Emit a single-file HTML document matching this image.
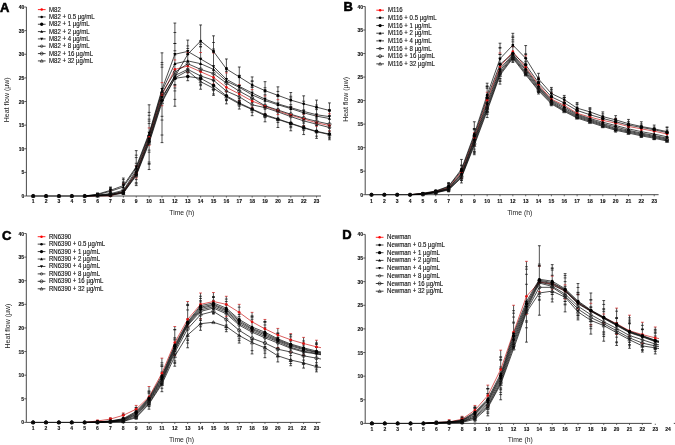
<!DOCTYPE html>
<html><head><meta charset="utf-8"><title>Heat flow</title>
<style>html,body{margin:0;padding:0;background:#fff;width:675px;height:445px;overflow:hidden}
svg text{font-family:'Liberation Sans', sans-serif}</style></head>
<body>
<svg width="675" height="445" viewBox="0 0 675 445" style="position:absolute;left:0;top:0;will-change:transform"><rect width="675" height="445" fill="#fff"/><path d="M26.40 7.00V196.00H321.00" fill="none" stroke="#333" stroke-width="0.9"/><path d="M24.40 196.00H26.40" stroke="#333" stroke-width="0.8"/><text x="24.20" y="198.05" text-anchor="end" font-size="5" font-weight="bold" fill="#111" stroke="#111" stroke-width="0.12">0</text><path d="M24.40 172.38H26.40" stroke="#333" stroke-width="0.8"/><text x="24.20" y="174.43" text-anchor="end" font-size="5" font-weight="bold" fill="#111" stroke="#111" stroke-width="0.12">5</text><path d="M24.40 148.75H26.40" stroke="#333" stroke-width="0.8"/><text x="24.20" y="150.80" text-anchor="end" font-size="5" font-weight="bold" fill="#111" stroke="#111" stroke-width="0.12">10</text><path d="M24.40 125.12H26.40" stroke="#333" stroke-width="0.8"/><text x="24.20" y="127.17" text-anchor="end" font-size="5" font-weight="bold" fill="#111" stroke="#111" stroke-width="0.12">15</text><path d="M24.40 101.50H26.40" stroke="#333" stroke-width="0.8"/><text x="24.20" y="103.55" text-anchor="end" font-size="5" font-weight="bold" fill="#111" stroke="#111" stroke-width="0.12">20</text><path d="M24.40 77.88H26.40" stroke="#333" stroke-width="0.8"/><text x="24.20" y="79.93" text-anchor="end" font-size="5" font-weight="bold" fill="#111" stroke="#111" stroke-width="0.12">25</text><path d="M24.40 54.25H26.40" stroke="#333" stroke-width="0.8"/><text x="24.20" y="56.30" text-anchor="end" font-size="5" font-weight="bold" fill="#111" stroke="#111" stroke-width="0.12">30</text><path d="M24.40 30.62H26.40" stroke="#333" stroke-width="0.8"/><text x="24.20" y="32.67" text-anchor="end" font-size="5" font-weight="bold" fill="#111" stroke="#111" stroke-width="0.12">35</text><path d="M24.40 7.00H26.40" stroke="#333" stroke-width="0.8"/><text x="24.20" y="9.05" text-anchor="end" font-size="5" font-weight="bold" fill="#111" stroke="#111" stroke-width="0.12">40</text><path d="M33.20 196.00V197.60" stroke="#333" stroke-width="0.7"/><text x="33.20" y="203.40" text-anchor="middle" font-size="5" font-weight="bold" fill="#111" stroke="#111" stroke-width="0.12">1</text><path d="M46.08 196.00V197.60" stroke="#333" stroke-width="0.7"/><text x="46.08" y="203.40" text-anchor="middle" font-size="5" font-weight="bold" fill="#111" stroke="#111" stroke-width="0.12">2</text><path d="M58.96 196.00V197.60" stroke="#333" stroke-width="0.7"/><text x="58.96" y="203.40" text-anchor="middle" font-size="5" font-weight="bold" fill="#111" stroke="#111" stroke-width="0.12">3</text><path d="M71.84 196.00V197.60" stroke="#333" stroke-width="0.7"/><text x="71.84" y="203.40" text-anchor="middle" font-size="5" font-weight="bold" fill="#111" stroke="#111" stroke-width="0.12">4</text><path d="M84.72 196.00V197.60" stroke="#333" stroke-width="0.7"/><text x="84.72" y="203.40" text-anchor="middle" font-size="5" font-weight="bold" fill="#111" stroke="#111" stroke-width="0.12">5</text><path d="M97.60 196.00V197.60" stroke="#333" stroke-width="0.7"/><text x="97.60" y="203.40" text-anchor="middle" font-size="5" font-weight="bold" fill="#111" stroke="#111" stroke-width="0.12">6</text><path d="M110.48 196.00V197.60" stroke="#333" stroke-width="0.7"/><text x="110.48" y="203.40" text-anchor="middle" font-size="5" font-weight="bold" fill="#111" stroke="#111" stroke-width="0.12">7</text><path d="M123.36 196.00V197.60" stroke="#333" stroke-width="0.7"/><text x="123.36" y="203.40" text-anchor="middle" font-size="5" font-weight="bold" fill="#111" stroke="#111" stroke-width="0.12">8</text><path d="M136.24 196.00V197.60" stroke="#333" stroke-width="0.7"/><text x="136.24" y="203.40" text-anchor="middle" font-size="5" font-weight="bold" fill="#111" stroke="#111" stroke-width="0.12">9</text><path d="M149.12 196.00V197.60" stroke="#333" stroke-width="0.7"/><text x="149.12" y="203.40" text-anchor="middle" font-size="5" font-weight="bold" fill="#111" stroke="#111" stroke-width="0.12">10</text><path d="M162.00 196.00V197.60" stroke="#333" stroke-width="0.7"/><text x="162.00" y="203.40" text-anchor="middle" font-size="5" font-weight="bold" fill="#111" stroke="#111" stroke-width="0.12">11</text><path d="M174.88 196.00V197.60" stroke="#333" stroke-width="0.7"/><text x="174.88" y="203.40" text-anchor="middle" font-size="5" font-weight="bold" fill="#111" stroke="#111" stroke-width="0.12">12</text><path d="M187.76 196.00V197.60" stroke="#333" stroke-width="0.7"/><text x="187.76" y="203.40" text-anchor="middle" font-size="5" font-weight="bold" fill="#111" stroke="#111" stroke-width="0.12">13</text><path d="M200.64 196.00V197.60" stroke="#333" stroke-width="0.7"/><text x="200.64" y="203.40" text-anchor="middle" font-size="5" font-weight="bold" fill="#111" stroke="#111" stroke-width="0.12">14</text><path d="M213.52 196.00V197.60" stroke="#333" stroke-width="0.7"/><text x="213.52" y="203.40" text-anchor="middle" font-size="5" font-weight="bold" fill="#111" stroke="#111" stroke-width="0.12">15</text><path d="M226.40 196.00V197.60" stroke="#333" stroke-width="0.7"/><text x="226.40" y="203.40" text-anchor="middle" font-size="5" font-weight="bold" fill="#111" stroke="#111" stroke-width="0.12">16</text><path d="M239.28 196.00V197.60" stroke="#333" stroke-width="0.7"/><text x="239.28" y="203.40" text-anchor="middle" font-size="5" font-weight="bold" fill="#111" stroke="#111" stroke-width="0.12">17</text><path d="M252.16 196.00V197.60" stroke="#333" stroke-width="0.7"/><text x="252.16" y="203.40" text-anchor="middle" font-size="5" font-weight="bold" fill="#111" stroke="#111" stroke-width="0.12">18</text><path d="M265.04 196.00V197.60" stroke="#333" stroke-width="0.7"/><text x="265.04" y="203.40" text-anchor="middle" font-size="5" font-weight="bold" fill="#111" stroke="#111" stroke-width="0.12">19</text><path d="M277.92 196.00V197.60" stroke="#333" stroke-width="0.7"/><text x="277.92" y="203.40" text-anchor="middle" font-size="5" font-weight="bold" fill="#111" stroke="#111" stroke-width="0.12">20</text><path d="M290.80 196.00V197.60" stroke="#333" stroke-width="0.7"/><text x="290.80" y="203.40" text-anchor="middle" font-size="5" font-weight="bold" fill="#111" stroke="#111" stroke-width="0.12">21</text><path d="M303.68 196.00V197.60" stroke="#333" stroke-width="0.7"/><text x="303.68" y="203.40" text-anchor="middle" font-size="5" font-weight="bold" fill="#111" stroke="#111" stroke-width="0.12">22</text><path d="M316.56 196.00V197.60" stroke="#333" stroke-width="0.7"/><text x="316.56" y="203.40" text-anchor="middle" font-size="5" font-weight="bold" fill="#111" stroke="#111" stroke-width="0.12">23</text><g><path d="M97.60 193.16V196.00" stroke="#262626" stroke-width="0.8" fill="none"/><path d="M96.20 194.70H99.00M96.20 195.88H99.00" stroke="#d42020" stroke-width="0.75" fill="none"/><path d="M96.20 193.83H99.00M96.20 195.71H99.00" stroke="#111" stroke-width="0.75" fill="none"/><path d="M96.20 193.85H99.00M96.20 195.10H99.00" stroke="#111" stroke-width="0.75" fill="none"/><path d="M96.20 193.16H99.00M96.20 195.67H99.00" stroke="#111" stroke-width="0.75" fill="none"/><path d="M96.20 193.99H99.00M96.20 195.82H99.00" stroke="#111" stroke-width="0.75" fill="none"/><path d="M96.20 193.48H99.00M96.20 195.76H99.00" stroke="#111" stroke-width="0.75" fill="none"/><path d="M96.20 193.57H99.00M96.20 196.00H99.00" stroke="#111" stroke-width="0.75" fill="none"/><path d="M110.48 187.02V196.00" stroke="#262626" stroke-width="0.8" fill="none"/><path d="M109.08 190.55H111.88M109.08 196.00H111.88" stroke="#d42020" stroke-width="0.75" fill="none"/><path d="M109.08 188.44H111.88M109.08 195.89H111.88" stroke="#111" stroke-width="0.75" fill="none"/><path d="M109.08 187.67H111.88M109.08 194.41H111.88" stroke="#111" stroke-width="0.75" fill="none"/><path d="M109.08 187.02H111.88M109.08 194.54H111.88" stroke="#111" stroke-width="0.75" fill="none"/><path d="M109.08 189.24H111.88M109.08 194.83H111.88" stroke="#111" stroke-width="0.75" fill="none"/><path d="M109.08 192.11H111.88M109.08 195.87H111.88" stroke="#111" stroke-width="0.75" fill="none"/><path d="M123.36 178.05V194.58" stroke="#262626" stroke-width="0.8" fill="none"/><path d="M121.96 183.68H124.76M121.96 192.65H124.76" stroke="#d42020" stroke-width="0.75" fill="none"/><path d="M121.96 184.73H124.76M121.96 193.69H124.76" stroke="#111" stroke-width="0.75" fill="none"/><path d="M121.96 179.67H124.76M121.96 193.71H124.76" stroke="#111" stroke-width="0.75" fill="none"/><path d="M121.96 182.10H124.76M121.96 190.24H124.76" stroke="#111" stroke-width="0.75" fill="none"/><path d="M121.96 178.05H124.76M121.96 193.00H124.76" stroke="#111" stroke-width="0.75" fill="none"/><path d="M121.96 183.42H124.76M121.96 193.85H124.76" stroke="#111" stroke-width="0.75" fill="none"/><path d="M121.96 182.21H124.76M121.96 194.58H124.76" stroke="#111" stroke-width="0.75" fill="none"/><path d="M136.24 150.64V185.60" stroke="#262626" stroke-width="0.8" fill="none"/><path d="M134.84 165.93H137.64M134.84 177.90H137.64" stroke="#d42020" stroke-width="0.75" fill="none"/><path d="M134.84 157.57H137.64M134.84 183.89H137.64" stroke="#111" stroke-width="0.75" fill="none"/><path d="M134.84 150.64H137.64M134.84 179.57H137.64" stroke="#111" stroke-width="0.75" fill="none"/><path d="M134.84 155.15H137.64M134.84 182.71H137.64" stroke="#111" stroke-width="0.75" fill="none"/><path d="M134.84 163.28H137.64M134.84 185.60H137.64" stroke="#111" stroke-width="0.75" fill="none"/><path d="M149.12 104.81V169.54" stroke="#262626" stroke-width="0.8" fill="none"/><path d="M147.72 127.95H150.52M147.72 145.39H150.52" stroke="#d42020" stroke-width="0.75" fill="none"/><path d="M147.72 112.41H150.52M147.72 164.28H150.52" stroke="#111" stroke-width="0.75" fill="none"/><path d="M147.72 121.15H150.52M147.72 152.17H150.52" stroke="#111" stroke-width="0.75" fill="none"/><path d="M147.72 104.81H150.52M147.72 162.04H150.52" stroke="#111" stroke-width="0.75" fill="none"/><path d="M147.72 115.33H150.52M147.72 163.49H150.52" stroke="#111" stroke-width="0.75" fill="none"/><path d="M147.72 119.16H150.52M147.72 150.13H150.52" stroke="#111" stroke-width="0.75" fill="none"/><path d="M147.72 123.54H150.52M147.72 169.54H150.52" stroke="#111" stroke-width="0.75" fill="none"/><path d="M162.00 52.83V142.61" stroke="#262626" stroke-width="0.8" fill="none"/><path d="M160.60 82.65H163.40M160.60 105.73H163.40" stroke="#d42020" stroke-width="0.75" fill="none"/><path d="M160.60 67.17H163.40M160.60 120.05H163.40" stroke="#111" stroke-width="0.75" fill="none"/><path d="M160.60 62.59H163.40M160.60 116.32H163.40" stroke="#111" stroke-width="0.75" fill="none"/><path d="M160.60 52.83H163.40M160.60 135.03H163.40" stroke="#111" stroke-width="0.75" fill="none"/><path d="M160.60 64.74H163.40M160.60 142.61H163.40" stroke="#111" stroke-width="0.75" fill="none"/><path d="M174.88 23.06V106.23" stroke="#262626" stroke-width="0.8" fill="none"/><path d="M173.48 59.97H176.28M173.48 86.01H176.28" stroke="#d42020" stroke-width="0.75" fill="none"/><path d="M173.48 32.52H176.28M173.48 87.99H176.28" stroke="#111" stroke-width="0.75" fill="none"/><path d="M173.48 50.75H176.28M173.48 106.23H176.28" stroke="#111" stroke-width="0.75" fill="none"/><path d="M173.48 43.48H176.28M173.48 90.92H176.28" stroke="#111" stroke-width="0.75" fill="none"/><path d="M173.48 23.06H176.28M173.48 84.53H176.28" stroke="#111" stroke-width="0.75" fill="none"/><path d="M173.48 43.51H176.28M173.48 99.38H176.28" stroke="#111" stroke-width="0.75" fill="none"/><path d="M173.48 54.96H176.28M173.48 85.14H176.28" stroke="#111" stroke-width="0.75" fill="none"/><path d="M187.76 40.08V80.71" stroke="#262626" stroke-width="0.8" fill="none"/><path d="M186.36 52.54H189.16M186.36 72.64H189.16" stroke="#d42020" stroke-width="0.75" fill="none"/><path d="M186.36 45.92H189.16M186.36 68.93H189.16" stroke="#111" stroke-width="0.75" fill="none"/><path d="M186.36 53.80H189.16M186.36 80.71H189.16" stroke="#111" stroke-width="0.75" fill="none"/><path d="M186.36 40.08H189.16M186.36 72.85H189.16" stroke="#111" stroke-width="0.75" fill="none"/><path d="M186.36 48.47H189.16M186.36 76.16H189.16" stroke="#111" stroke-width="0.75" fill="none"/><path d="M200.64 24.96V89.22" stroke="#262626" stroke-width="0.8" fill="none"/><path d="M199.24 52.51H202.04M199.24 79.18H202.04" stroke="#d42020" stroke-width="0.75" fill="none"/><path d="M199.24 24.96H202.04M199.24 75.36H202.04" stroke="#111" stroke-width="0.75" fill="none"/><path d="M199.24 42.86H202.04M199.24 84.59H202.04" stroke="#111" stroke-width="0.75" fill="none"/><path d="M199.24 46.59H202.04M199.24 71.47H202.04" stroke="#111" stroke-width="0.75" fill="none"/><path d="M199.24 44.60H202.04M199.24 85.68H202.04" stroke="#111" stroke-width="0.75" fill="none"/><path d="M199.24 46.88H202.04M199.24 79.58H202.04" stroke="#111" stroke-width="0.75" fill="none"/><path d="M199.24 59.04H202.04M199.24 89.22H202.04" stroke="#111" stroke-width="0.75" fill="none"/><path d="M213.52 35.82V95.36" stroke="#262626" stroke-width="0.8" fill="none"/><path d="M212.12 53.00H214.92M212.12 83.98H214.92" stroke="#d42020" stroke-width="0.75" fill="none"/><path d="M212.12 35.82H214.92M212.12 80.53H214.92" stroke="#111" stroke-width="0.75" fill="none"/><path d="M212.12 52.25H214.92M212.12 93.95H214.92" stroke="#111" stroke-width="0.75" fill="none"/><path d="M212.12 49.01H214.92M212.12 90.69H214.92" stroke="#111" stroke-width="0.75" fill="none"/><path d="M212.12 50.34H214.92M212.12 89.58H214.92" stroke="#111" stroke-width="0.75" fill="none"/><path d="M212.12 42.49H214.92M212.12 95.36H214.92" stroke="#111" stroke-width="0.75" fill="none"/><path d="M226.40 58.98V103.86" stroke="#262626" stroke-width="0.8" fill="none"/><path d="M225.00 72.88H227.80M225.00 91.58H227.80" stroke="#d42020" stroke-width="0.75" fill="none"/><path d="M225.00 58.98H227.80M225.00 100.20H227.80" stroke="#111" stroke-width="0.75" fill="none"/><path d="M225.00 67.69H227.80M225.00 99.53H227.80" stroke="#111" stroke-width="0.75" fill="none"/><path d="M225.00 71.35H227.80M225.00 100.63H227.80" stroke="#111" stroke-width="0.75" fill="none"/><path d="M225.00 68.29H227.80M225.00 103.86H227.80" stroke="#111" stroke-width="0.75" fill="none"/><path d="M239.28 67.01V109.06" stroke="#262626" stroke-width="0.8" fill="none"/><path d="M237.88 84.71H240.68M237.88 100.47H240.68" stroke="#d42020" stroke-width="0.75" fill="none"/><path d="M237.88 67.01H240.68M237.88 100.11H240.68" stroke="#111" stroke-width="0.75" fill="none"/><path d="M237.88 90.21H240.68M237.88 106.20H240.68" stroke="#111" stroke-width="0.75" fill="none"/><path d="M237.88 75.34H240.68M237.88 100.74H240.68" stroke="#111" stroke-width="0.75" fill="none"/><path d="M237.88 77.36H240.68M237.88 101.62H240.68" stroke="#111" stroke-width="0.75" fill="none"/><path d="M237.88 75.46H240.68M237.88 98.57H240.68" stroke="#111" stroke-width="0.75" fill="none"/><path d="M237.88 85.39H240.68M237.88 109.06H240.68" stroke="#111" stroke-width="0.75" fill="none"/><path d="M252.16 76.93V115.68" stroke="#262626" stroke-width="0.8" fill="none"/><path d="M250.76 89.67H253.56M250.76 107.28H253.56" stroke="#d42020" stroke-width="0.75" fill="none"/><path d="M250.76 76.93H253.56M250.76 98.79H253.56" stroke="#111" stroke-width="0.75" fill="none"/><path d="M250.76 86.83H253.56M250.76 112.34H253.56" stroke="#111" stroke-width="0.75" fill="none"/><path d="M250.76 81.58H253.56M250.76 102.47H253.56" stroke="#111" stroke-width="0.75" fill="none"/><path d="M250.76 80.76H253.56M250.76 109.46H253.56" stroke="#111" stroke-width="0.75" fill="none"/><path d="M250.76 87.41H253.56M250.76 115.68H253.56" stroke="#111" stroke-width="0.75" fill="none"/><path d="M265.04 81.66V121.82" stroke="#262626" stroke-width="0.8" fill="none"/><path d="M263.64 95.99H266.44M263.64 114.16H266.44" stroke="#d42020" stroke-width="0.75" fill="none"/><path d="M263.64 81.66H266.44M263.64 107.60H266.44" stroke="#111" stroke-width="0.75" fill="none"/><path d="M263.64 87.75H266.44M263.64 117.65H266.44" stroke="#111" stroke-width="0.75" fill="none"/><path d="M263.64 91.13H266.44M263.64 109.16H266.44" stroke="#111" stroke-width="0.75" fill="none"/><path d="M263.64 91.94H266.44M263.64 116.79H266.44" stroke="#111" stroke-width="0.75" fill="none"/><path d="M263.64 94.81H266.44M263.64 115.06H266.44" stroke="#111" stroke-width="0.75" fill="none"/><path d="M263.64 89.86H266.44M263.64 121.82H266.44" stroke="#111" stroke-width="0.75" fill="none"/><path d="M277.92 86.85V127.49" stroke="#262626" stroke-width="0.8" fill="none"/><path d="M276.52 99.70H279.32M276.52 114.46H279.32" stroke="#d42020" stroke-width="0.75" fill="none"/><path d="M276.52 86.85H279.32M276.52 109.97H279.32" stroke="#111" stroke-width="0.75" fill="none"/><path d="M276.52 96.53H279.32M276.52 122.46H279.32" stroke="#111" stroke-width="0.75" fill="none"/><path d="M276.52 96.29H279.32M276.52 120.25H279.32" stroke="#111" stroke-width="0.75" fill="none"/><path d="M276.52 91.44H279.32M276.52 127.49H279.32" stroke="#111" stroke-width="0.75" fill="none"/><path d="M290.80 92.52V130.80" stroke="#262626" stroke-width="0.8" fill="none"/><path d="M289.40 107.55H292.20M289.40 123.35H292.20" stroke="#d42020" stroke-width="0.75" fill="none"/><path d="M289.40 92.52H292.20M289.40 126.57H292.20" stroke="#111" stroke-width="0.75" fill="none"/><path d="M289.40 97.93H292.20M289.40 127.70H292.20" stroke="#111" stroke-width="0.75" fill="none"/><path d="M289.40 96.28H292.20M289.40 122.28H292.20" stroke="#111" stroke-width="0.75" fill="none"/><path d="M289.40 107.15H292.20M289.40 123.14H292.20" stroke="#111" stroke-width="0.75" fill="none"/><path d="M289.40 104.73H292.20M289.40 124.57H292.20" stroke="#111" stroke-width="0.75" fill="none"/><path d="M289.40 100.80H292.20M289.40 130.80H292.20" stroke="#111" stroke-width="0.75" fill="none"/><path d="M303.68 95.83V134.57" stroke="#262626" stroke-width="0.8" fill="none"/><path d="M302.28 114.15H305.08M302.28 125.75H305.08" stroke="#d42020" stroke-width="0.75" fill="none"/><path d="M302.28 95.83H305.08M302.28 123.12H305.08" stroke="#111" stroke-width="0.75" fill="none"/><path d="M302.28 101.19H305.08M302.28 125.74H305.08" stroke="#111" stroke-width="0.75" fill="none"/><path d="M302.28 109.86H305.08M302.28 130.32H305.08" stroke="#111" stroke-width="0.75" fill="none"/><path d="M302.28 112.49H305.08M302.28 134.57H305.08" stroke="#111" stroke-width="0.75" fill="none"/><path d="M316.56 100.08V138.36" stroke="#262626" stroke-width="0.8" fill="none"/><path d="M315.16 115.35H317.96M315.16 126.23H317.96" stroke="#d42020" stroke-width="0.75" fill="none"/><path d="M315.16 100.08H317.96M315.16 125.55H317.96" stroke="#111" stroke-width="0.75" fill="none"/><path d="M315.16 118.82H317.96M315.16 136.16H317.96" stroke="#111" stroke-width="0.75" fill="none"/><path d="M315.16 109.60H317.96M315.16 132.24H317.96" stroke="#111" stroke-width="0.75" fill="none"/><path d="M315.16 107.94H317.96M315.16 130.40H317.96" stroke="#111" stroke-width="0.75" fill="none"/><path d="M315.16 104.99H317.96M315.16 138.36H317.96" stroke="#111" stroke-width="0.75" fill="none"/><path d="M329.44 102.92V139.77" stroke="#262626" stroke-width="0.8" fill="none"/><path d="M328.04 113.79H330.84M328.04 130.92H330.84" stroke="#d42020" stroke-width="0.75" fill="none"/><path d="M328.04 102.92H330.84M328.04 127.89H330.84" stroke="#111" stroke-width="0.75" fill="none"/><path d="M328.04 111.13H330.84M328.04 137.16H330.84" stroke="#111" stroke-width="0.75" fill="none"/><path d="M328.04 109.47H330.84M328.04 138.20H330.84" stroke="#111" stroke-width="0.75" fill="none"/><path d="M328.04 116.24H330.84M328.04 131.11H330.84" stroke="#111" stroke-width="0.75" fill="none"/><path d="M328.04 110.41H330.84M328.04 139.77H330.84" stroke="#111" stroke-width="0.75" fill="none"/><polyline points="84.72,196.00 97.60,195.76 110.48,195.76 123.36,191.75 136.24,172.85 149.12,137.41 162.00,94.89 174.88,69.37 187.76,66.06 200.64,71.73 213.52,77.40 226.40,87.33 239.28,93.94 252.16,101.03 265.04,106.23 277.92,110.95 290.80,115.20 303.68,118.98 316.56,122.76 329.44,125.60" fill="none" stroke="#c81818" stroke-width="0.7"/><polyline points="33.20,196.00 46.08,196.00 58.96,196.00 71.84,196.00 84.72,196.00 97.60,195.53 110.48,194.58 123.36,191.28 136.24,171.90 149.12,138.83 162.00,96.78 174.88,76.93 187.76,54.25 200.64,41.02 213.52,51.41 226.40,68.90 239.28,76.93 252.16,84.96 265.04,90.63 277.92,95.36 290.80,100.08 303.68,103.86 316.56,107.17 329.44,110.48" fill="none" stroke="#000" stroke-width="0.7"/><polyline points="84.72,196.00 97.60,195.53 110.48,195.06 123.36,192.69 136.24,174.74 149.12,141.66 162.00,100.56 174.88,78.35 187.76,76.46 200.64,78.35 213.52,85.44 226.40,95.83 239.28,102.92 252.16,109.06 265.04,114.73 277.92,118.98 290.80,123.23 303.68,127.49 316.56,131.27 329.44,134.10" fill="none" stroke="#000" stroke-width="0.7"/><polyline points="84.72,196.00 97.60,194.58 110.48,191.28 123.36,187.02 136.24,168.12 149.12,134.57 162.00,91.11 174.88,63.70 187.76,60.87 200.64,63.70 213.52,69.37 226.40,81.18 239.28,87.33 252.16,94.89 265.04,100.56 277.92,104.81 290.80,108.59 303.68,112.84 316.56,116.15 329.44,118.51" fill="none" stroke="#000" stroke-width="0.7"/><polyline points="84.72,196.00 97.60,194.11 110.48,190.33 123.36,185.60 136.24,166.71 149.12,133.16 162.00,89.22 174.88,54.25 187.76,51.41 200.64,58.98 213.52,66.54 226.40,79.29 239.28,86.38 252.16,93.00 265.04,99.14 277.92,103.86 290.80,107.64 303.68,111.42 316.56,114.73 329.44,116.62" fill="none" stroke="#000" stroke-width="0.7"/><polyline points="84.72,196.00 97.60,195.29 110.48,194.11 123.36,192.22 136.24,173.79 149.12,140.25 162.00,98.67 174.88,75.51 187.76,69.37 200.64,75.99 213.52,80.24 226.40,91.11 239.28,96.78 252.16,104.81 265.04,107.64 277.92,111.89 290.80,116.62 303.68,120.87 316.56,124.18 329.44,127.49" fill="none" stroke="#000" stroke-width="0.7"/><polyline points="84.72,196.00 97.60,195.06 110.48,193.64 123.36,190.33 136.24,170.01 149.12,135.99 162.00,93.00 174.88,72.21 187.76,63.70 200.64,69.37 213.52,73.62 226.40,83.07 239.28,91.11 252.16,98.19 265.04,105.75 277.92,110.01 290.80,114.26 303.68,118.04 316.56,121.34 329.44,124.18" fill="none" stroke="#000" stroke-width="0.7"/><polyline points="84.72,196.00 97.60,196.00 110.48,195.29 123.36,193.16 136.24,175.68 149.12,143.08 162.00,102.45 174.88,77.88 187.76,70.79 200.64,81.66 213.52,88.27 226.40,96.78 239.28,103.86 252.16,109.53 265.04,115.68 277.92,119.46 290.80,123.71 303.68,127.96 316.56,131.74 329.44,134.57" fill="none" stroke="#000" stroke-width="0.7"/><circle cx="33.20" cy="196.00" r="1.35" fill="#e01010"/><circle cx="46.08" cy="196.00" r="1.35" fill="#e01010"/><circle cx="58.96" cy="196.00" r="1.35" fill="#e01010"/><circle cx="71.84" cy="196.00" r="1.35" fill="#e01010"/><circle cx="84.72" cy="196.00" r="1.35" fill="#e01010"/><circle cx="97.60" cy="195.76" r="1.35" fill="#e01010"/><circle cx="110.48" cy="195.76" r="1.35" fill="#e01010"/><circle cx="123.36" cy="191.75" r="1.35" fill="#e01010"/><circle cx="136.24" cy="172.85" r="1.35" fill="#e01010"/><circle cx="149.12" cy="137.41" r="1.35" fill="#e01010"/><circle cx="162.00" cy="94.89" r="1.35" fill="#e01010"/><circle cx="174.88" cy="69.37" r="1.35" fill="#e01010"/><circle cx="187.76" cy="66.06" r="1.35" fill="#e01010"/><circle cx="200.64" cy="71.73" r="1.35" fill="#e01010"/><circle cx="213.52" cy="77.40" r="1.35" fill="#e01010"/><circle cx="226.40" cy="87.33" r="1.35" fill="#e01010"/><circle cx="239.28" cy="93.94" r="1.35" fill="#e01010"/><circle cx="252.16" cy="101.03" r="1.35" fill="#e01010"/><circle cx="265.04" cy="106.23" r="1.35" fill="#e01010"/><circle cx="277.92" cy="110.95" r="1.35" fill="#e01010"/><circle cx="290.80" cy="115.20" r="1.35" fill="#e01010"/><circle cx="303.68" cy="118.98" r="1.35" fill="#e01010"/><circle cx="316.56" cy="122.76" r="1.35" fill="#e01010"/><circle cx="329.44" cy="125.60" r="1.35" fill="#e01010"/><circle cx="33.20" cy="196.00" r="1.35" fill="#000"/><circle cx="46.08" cy="196.00" r="1.35" fill="#000"/><circle cx="58.96" cy="196.00" r="1.35" fill="#000"/><circle cx="71.84" cy="196.00" r="1.35" fill="#000"/><circle cx="84.72" cy="196.00" r="1.35" fill="#000"/><circle cx="97.60" cy="195.53" r="1.35" fill="#000"/><circle cx="110.48" cy="194.58" r="1.35" fill="#000"/><circle cx="123.36" cy="191.28" r="1.35" fill="#000"/><circle cx="136.24" cy="171.90" r="1.35" fill="#000"/><circle cx="149.12" cy="138.83" r="1.35" fill="#000"/><circle cx="162.00" cy="96.78" r="1.35" fill="#000"/><circle cx="174.88" cy="76.93" r="1.35" fill="#000"/><circle cx="187.76" cy="54.25" r="1.35" fill="#000"/><circle cx="200.64" cy="41.02" r="1.35" fill="#000"/><circle cx="213.52" cy="51.41" r="1.35" fill="#000"/><circle cx="226.40" cy="68.90" r="1.35" fill="#000"/><circle cx="239.28" cy="76.93" r="1.35" fill="#000"/><circle cx="252.16" cy="84.96" r="1.35" fill="#000"/><circle cx="265.04" cy="90.63" r="1.35" fill="#000"/><circle cx="277.92" cy="95.36" r="1.35" fill="#000"/><circle cx="290.80" cy="100.08" r="1.35" fill="#000"/><circle cx="303.68" cy="103.86" r="1.35" fill="#000"/><circle cx="316.56" cy="107.17" r="1.35" fill="#000"/><circle cx="329.44" cy="110.48" r="1.35" fill="#000"/><circle cx="33.20" cy="196.00" r="1.78" fill="#000"/><circle cx="46.08" cy="196.00" r="1.78" fill="#000"/><circle cx="58.96" cy="196.00" r="1.78" fill="#000"/><circle cx="71.84" cy="196.00" r="1.78" fill="#000"/><circle cx="84.72" cy="196.00" r="1.78" fill="#000"/><circle cx="97.60" cy="195.53" r="1.78" fill="#000"/><circle cx="110.48" cy="195.06" r="1.78" fill="#000"/><circle cx="123.36" cy="192.69" r="1.78" fill="#000"/><circle cx="136.24" cy="174.74" r="1.78" fill="#000"/><circle cx="149.12" cy="141.66" r="1.78" fill="#000"/><circle cx="162.00" cy="100.56" r="1.78" fill="#000"/><circle cx="174.88" cy="78.35" r="1.78" fill="#000"/><circle cx="187.76" cy="76.46" r="1.78" fill="#000"/><circle cx="200.64" cy="78.35" r="1.78" fill="#000"/><circle cx="213.52" cy="85.44" r="1.78" fill="#000"/><circle cx="226.40" cy="95.83" r="1.78" fill="#000"/><circle cx="239.28" cy="102.92" r="1.78" fill="#000"/><circle cx="252.16" cy="109.06" r="1.78" fill="#000"/><circle cx="265.04" cy="114.73" r="1.78" fill="#000"/><circle cx="277.92" cy="118.98" r="1.78" fill="#000"/><circle cx="290.80" cy="123.23" r="1.78" fill="#000"/><circle cx="303.68" cy="127.49" r="1.78" fill="#000"/><circle cx="316.56" cy="131.27" r="1.78" fill="#000"/><circle cx="329.44" cy="134.10" r="1.78" fill="#000"/><path d="M33.20 194.38L34.82 197.30L31.58 197.30Z" fill="#000"/><path d="M46.08 194.38L47.70 197.30L44.46 197.30Z" fill="#000"/><path d="M58.96 194.38L60.58 197.30L57.34 197.30Z" fill="#000"/><path d="M71.84 194.38L73.46 197.30L70.22 197.30Z" fill="#000"/><path d="M84.72 194.38L86.34 197.30L83.10 197.30Z" fill="#000"/><path d="M97.60 192.96L99.22 195.88L95.98 195.88Z" fill="#000"/><path d="M110.48 189.66L112.10 192.57L108.86 192.57Z" fill="#000"/><path d="M123.36 185.40L124.98 188.32L121.74 188.32Z" fill="#000"/><path d="M136.24 166.50L137.86 169.42L134.62 169.42Z" fill="#000"/><path d="M149.12 132.95L150.74 135.87L147.50 135.87Z" fill="#000"/><path d="M162.00 89.49L163.62 92.40L160.38 92.40Z" fill="#000"/><path d="M174.88 62.08L176.50 65.00L173.26 65.00Z" fill="#000"/><path d="M187.76 59.25L189.38 62.16L186.14 62.16Z" fill="#000"/><path d="M200.64 62.08L202.26 65.00L199.02 65.00Z" fill="#000"/><path d="M213.52 67.75L215.14 70.67L211.90 70.67Z" fill="#000"/><path d="M226.40 79.56L228.02 82.48L224.78 82.48Z" fill="#000"/><path d="M239.28 85.70L240.90 88.62L237.66 88.62Z" fill="#000"/><path d="M252.16 93.27L253.78 96.18L250.54 96.18Z" fill="#000"/><path d="M265.04 98.94L266.66 101.85L263.42 101.85Z" fill="#000"/><path d="M277.92 103.19L279.54 106.10L276.30 106.10Z" fill="#000"/><path d="M290.80 106.97L292.42 109.88L289.18 109.88Z" fill="#000"/><path d="M303.68 111.22L305.30 114.14L302.06 114.14Z" fill="#000"/><path d="M316.56 114.53L318.18 117.44L314.94 117.44Z" fill="#000"/><path d="M329.44 116.89L331.06 119.81L327.82 119.81Z" fill="#000"/><path d="M33.20 197.62L34.82 194.70L31.58 194.70Z" fill="#000"/><path d="M46.08 197.62L47.70 194.70L44.46 194.70Z" fill="#000"/><path d="M58.96 197.62L60.58 194.70L57.34 194.70Z" fill="#000"/><path d="M71.84 197.62L73.46 194.70L70.22 194.70Z" fill="#000"/><path d="M84.72 197.62L86.34 194.70L83.10 194.70Z" fill="#000"/><path d="M97.60 195.73L99.22 192.81L95.98 192.81Z" fill="#000"/><path d="M110.48 191.95L112.10 189.03L108.86 189.03Z" fill="#000"/><path d="M123.36 187.22L124.98 184.31L121.74 184.31Z" fill="#000"/><path d="M136.24 168.33L137.86 165.41L134.62 165.41Z" fill="#000"/><path d="M149.12 134.78L150.74 131.86L147.50 131.86Z" fill="#000"/><path d="M162.00 90.84L163.62 87.92L160.38 87.92Z" fill="#000"/><path d="M174.88 55.87L176.50 52.95L173.26 52.95Z" fill="#000"/><path d="M187.76 53.03L189.38 50.12L186.14 50.12Z" fill="#000"/><path d="M200.64 60.60L202.26 57.68L199.02 57.68Z" fill="#000"/><path d="M213.52 68.16L215.14 65.24L211.90 65.24Z" fill="#000"/><path d="M226.40 80.91L228.02 78.00L224.78 78.00Z" fill="#000"/><path d="M239.28 88.00L240.90 85.08L237.66 85.08Z" fill="#000"/><path d="M252.16 94.62L253.78 91.70L250.54 91.70Z" fill="#000"/><path d="M265.04 100.76L266.66 97.84L263.42 97.84Z" fill="#000"/><path d="M277.92 105.48L279.54 102.57L276.30 102.57Z" fill="#000"/><path d="M290.80 109.26L292.42 106.35L289.18 106.35Z" fill="#000"/><path d="M303.68 113.04L305.30 110.13L302.06 110.13Z" fill="#000"/><path d="M316.56 116.35L318.18 113.43L314.94 113.43Z" fill="#000"/><path d="M329.44 118.24L331.06 115.32L327.82 115.32Z" fill="#000"/><circle cx="33.20" cy="196.00" r="1.35" fill="none" stroke="#111" stroke-width="0.6"/><circle cx="46.08" cy="196.00" r="1.35" fill="none" stroke="#111" stroke-width="0.6"/><circle cx="58.96" cy="196.00" r="1.35" fill="none" stroke="#111" stroke-width="0.6"/><circle cx="71.84" cy="196.00" r="1.35" fill="none" stroke="#111" stroke-width="0.6"/><circle cx="84.72" cy="196.00" r="1.35" fill="none" stroke="#111" stroke-width="0.6"/><circle cx="97.60" cy="195.29" r="1.35" fill="none" stroke="#111" stroke-width="0.6"/><circle cx="110.48" cy="194.11" r="1.35" fill="none" stroke="#111" stroke-width="0.6"/><circle cx="123.36" cy="192.22" r="1.35" fill="none" stroke="#111" stroke-width="0.6"/><circle cx="136.24" cy="173.79" r="1.35" fill="none" stroke="#111" stroke-width="0.6"/><circle cx="149.12" cy="140.25" r="1.35" fill="none" stroke="#111" stroke-width="0.6"/><circle cx="162.00" cy="98.67" r="1.35" fill="none" stroke="#111" stroke-width="0.6"/><circle cx="174.88" cy="75.51" r="1.35" fill="none" stroke="#111" stroke-width="0.6"/><circle cx="187.76" cy="69.37" r="1.35" fill="none" stroke="#111" stroke-width="0.6"/><circle cx="200.64" cy="75.99" r="1.35" fill="none" stroke="#111" stroke-width="0.6"/><circle cx="213.52" cy="80.24" r="1.35" fill="none" stroke="#111" stroke-width="0.6"/><circle cx="226.40" cy="91.11" r="1.35" fill="none" stroke="#111" stroke-width="0.6"/><circle cx="239.28" cy="96.78" r="1.35" fill="none" stroke="#111" stroke-width="0.6"/><circle cx="252.16" cy="104.81" r="1.35" fill="none" stroke="#111" stroke-width="0.6"/><circle cx="265.04" cy="107.64" r="1.35" fill="none" stroke="#111" stroke-width="0.6"/><circle cx="277.92" cy="111.89" r="1.35" fill="none" stroke="#111" stroke-width="0.6"/><circle cx="290.80" cy="116.62" r="1.35" fill="none" stroke="#111" stroke-width="0.6"/><circle cx="303.68" cy="120.87" r="1.35" fill="none" stroke="#111" stroke-width="0.6"/><circle cx="316.56" cy="124.18" r="1.35" fill="none" stroke="#111" stroke-width="0.6"/><circle cx="329.44" cy="127.49" r="1.35" fill="none" stroke="#111" stroke-width="0.6"/><circle cx="33.20" cy="196.00" r="1.62" fill="none" stroke="#111" stroke-width="0.7"/><circle cx="46.08" cy="196.00" r="1.62" fill="none" stroke="#111" stroke-width="0.7"/><circle cx="58.96" cy="196.00" r="1.62" fill="none" stroke="#111" stroke-width="0.7"/><circle cx="71.84" cy="196.00" r="1.62" fill="none" stroke="#111" stroke-width="0.7"/><circle cx="84.72" cy="196.00" r="1.62" fill="none" stroke="#111" stroke-width="0.7"/><circle cx="97.60" cy="195.06" r="1.62" fill="none" stroke="#111" stroke-width="0.7"/><circle cx="110.48" cy="193.64" r="1.62" fill="none" stroke="#111" stroke-width="0.7"/><circle cx="123.36" cy="190.33" r="1.62" fill="none" stroke="#111" stroke-width="0.7"/><circle cx="136.24" cy="170.01" r="1.62" fill="none" stroke="#111" stroke-width="0.7"/><circle cx="149.12" cy="135.99" r="1.62" fill="none" stroke="#111" stroke-width="0.7"/><circle cx="162.00" cy="93.00" r="1.62" fill="none" stroke="#111" stroke-width="0.7"/><circle cx="174.88" cy="72.21" r="1.62" fill="none" stroke="#111" stroke-width="0.7"/><circle cx="187.76" cy="63.70" r="1.62" fill="none" stroke="#111" stroke-width="0.7"/><circle cx="200.64" cy="69.37" r="1.62" fill="none" stroke="#111" stroke-width="0.7"/><circle cx="213.52" cy="73.62" r="1.62" fill="none" stroke="#111" stroke-width="0.7"/><circle cx="226.40" cy="83.07" r="1.62" fill="none" stroke="#111" stroke-width="0.7"/><circle cx="239.28" cy="91.11" r="1.62" fill="none" stroke="#111" stroke-width="0.7"/><circle cx="252.16" cy="98.19" r="1.62" fill="none" stroke="#111" stroke-width="0.7"/><circle cx="265.04" cy="105.75" r="1.62" fill="none" stroke="#111" stroke-width="0.7"/><circle cx="277.92" cy="110.01" r="1.62" fill="none" stroke="#111" stroke-width="0.7"/><circle cx="290.80" cy="114.26" r="1.62" fill="none" stroke="#111" stroke-width="0.7"/><circle cx="303.68" cy="118.04" r="1.62" fill="none" stroke="#111" stroke-width="0.7"/><circle cx="316.56" cy="121.34" r="1.62" fill="none" stroke="#111" stroke-width="0.7"/><circle cx="329.44" cy="124.18" r="1.62" fill="none" stroke="#111" stroke-width="0.7"/><path d="M33.20 194.38L34.82 197.30L31.58 197.30Z" fill="none" stroke="#111" stroke-width="0.6"/><path d="M46.08 194.38L47.70 197.30L44.46 197.30Z" fill="none" stroke="#111" stroke-width="0.6"/><path d="M58.96 194.38L60.58 197.30L57.34 197.30Z" fill="none" stroke="#111" stroke-width="0.6"/><path d="M71.84 194.38L73.46 197.30L70.22 197.30Z" fill="none" stroke="#111" stroke-width="0.6"/><path d="M84.72 194.38L86.34 197.30L83.10 197.30Z" fill="none" stroke="#111" stroke-width="0.6"/><path d="M97.60 194.38L99.22 197.30L95.98 197.30Z" fill="none" stroke="#111" stroke-width="0.6"/><path d="M110.48 193.67L112.10 196.59L108.86 196.59Z" fill="none" stroke="#111" stroke-width="0.6"/><path d="M123.36 191.54L124.98 194.46L121.74 194.46Z" fill="none" stroke="#111" stroke-width="0.6"/><path d="M136.24 174.06L137.86 176.98L134.62 176.98Z" fill="none" stroke="#111" stroke-width="0.6"/><path d="M149.12 141.46L150.74 144.38L147.50 144.38Z" fill="none" stroke="#111" stroke-width="0.6"/><path d="M162.00 100.83L163.62 103.74L160.38 103.74Z" fill="none" stroke="#111" stroke-width="0.6"/><path d="M174.88 76.26L176.50 79.17L173.26 79.17Z" fill="none" stroke="#111" stroke-width="0.6"/><path d="M187.76 69.17L189.38 72.08L186.14 72.08Z" fill="none" stroke="#111" stroke-width="0.6"/><path d="M200.64 80.04L202.26 82.95L199.02 82.95Z" fill="none" stroke="#111" stroke-width="0.6"/><path d="M213.52 86.65L215.14 89.57L211.90 89.57Z" fill="none" stroke="#111" stroke-width="0.6"/><path d="M226.40 95.16L228.02 98.07L224.78 98.07Z" fill="none" stroke="#111" stroke-width="0.6"/><path d="M239.28 102.24L240.90 105.16L237.66 105.16Z" fill="none" stroke="#111" stroke-width="0.6"/><path d="M252.16 107.91L253.78 110.83L250.54 110.83Z" fill="none" stroke="#111" stroke-width="0.6"/><path d="M265.04 114.06L266.66 116.97L263.42 116.97Z" fill="none" stroke="#111" stroke-width="0.6"/><path d="M277.92 117.84L279.54 120.75L276.30 120.75Z" fill="none" stroke="#111" stroke-width="0.6"/><path d="M290.80 122.09L292.42 125.00L289.18 125.00Z" fill="none" stroke="#111" stroke-width="0.6"/><path d="M303.68 126.34L305.30 129.26L302.06 129.26Z" fill="none" stroke="#111" stroke-width="0.6"/><path d="M316.56 130.12L318.18 133.04L314.94 133.04Z" fill="none" stroke="#111" stroke-width="0.6"/><path d="M329.44 132.95L331.06 135.87L327.82 135.87Z" fill="none" stroke="#111" stroke-width="0.6"/></g><text x="0.00" y="11.70" font-size="13" font-weight="bold" fill="#000" stroke="#000" stroke-width="0.55">A</text><path d="M37.90 9.60H45.60" stroke="#f00" stroke-width="0.85"/><circle cx="41.70" cy="9.60" r="1.25" fill="#f00"/><text transform="translate(49.00 11.60) scale(0.82 1)" font-size="7.4" fill="#111" stroke="#111" stroke-width="0.15">M82</text><path d="M37.90 16.93H45.60" stroke="#222" stroke-width="0.85"/><circle cx="41.70" cy="16.93" r="1.25" fill="#000"/><text transform="translate(49.00 18.93) scale(0.82 1)" font-size="7.4" fill="#111" stroke="#111" stroke-width="0.15">M82 + 0.5 µg/mL</text><path d="M37.90 24.26H45.60" stroke="#222" stroke-width="0.85"/><circle cx="41.70" cy="24.26" r="1.65" fill="#000"/><text transform="translate(49.00 26.26) scale(0.82 1)" font-size="7.4" fill="#111" stroke="#111" stroke-width="0.15">M82 + 1 µg/mL</text><path d="M37.90 31.59H45.60" stroke="#222" stroke-width="0.85"/><path d="M41.70 30.09L43.20 32.79L40.20 32.79Z" fill="#000"/><text transform="translate(49.00 33.59) scale(0.82 1)" font-size="7.4" fill="#111" stroke="#111" stroke-width="0.15">M82 + 2 µg/mL</text><path d="M37.90 38.92H45.60" stroke="#222" stroke-width="0.85"/><path d="M41.70 40.42L43.20 37.72L40.20 37.72Z" fill="#000"/><text transform="translate(49.00 40.92) scale(0.82 1)" font-size="7.4" fill="#111" stroke="#111" stroke-width="0.15">M82 + 4 µg/mL</text><path d="M37.90 46.25H45.60" stroke="#222" stroke-width="0.85"/><circle cx="41.70" cy="46.25" r="1.25" fill="none" stroke="#111" stroke-width="0.6"/><text transform="translate(49.00 48.25) scale(0.82 1)" font-size="7.4" fill="#111" stroke="#111" stroke-width="0.15">M82 + 8 µg/mL</text><path d="M37.90 53.58H45.60" stroke="#222" stroke-width="0.85"/><circle cx="41.70" cy="53.58" r="1.50" fill="none" stroke="#111" stroke-width="0.7"/><text transform="translate(49.00 55.58) scale(0.82 1)" font-size="7.4" fill="#111" stroke="#111" stroke-width="0.15">M82 + 16 µg/mL</text><path d="M37.90 60.91H45.60" stroke="#222" stroke-width="0.85"/><path d="M41.70 59.41L43.20 62.11L40.20 62.11Z" fill="none" stroke="#111" stroke-width="0.6"/><text transform="translate(49.00 62.91) scale(0.82 1)" font-size="7.4" fill="#111" stroke="#111" stroke-width="0.15">M82 + 32 µg/mL</text><text transform="translate(9.30 99.80) rotate(-90)" text-anchor="middle" font-size="7" fill="#222">Heat flow (µw)</text><text x="181.80" y="215.20" text-anchor="middle" font-size="6.8" fill="#222">Time (h)</text><path d="M365.20 6.50V194.70H658.60" fill="none" stroke="#333" stroke-width="0.9"/><path d="M363.20 194.70H365.20" stroke="#333" stroke-width="0.8"/><text x="363.00" y="196.75" text-anchor="end" font-size="5" font-weight="bold" fill="#111" stroke="#111" stroke-width="0.12">0</text><path d="M363.20 171.17H365.20" stroke="#333" stroke-width="0.8"/><text x="363.00" y="173.22" text-anchor="end" font-size="5" font-weight="bold" fill="#111" stroke="#111" stroke-width="0.12">5</text><path d="M363.20 147.65H365.20" stroke="#333" stroke-width="0.8"/><text x="363.00" y="149.70" text-anchor="end" font-size="5" font-weight="bold" fill="#111" stroke="#111" stroke-width="0.12">10</text><path d="M363.20 124.12H365.20" stroke="#333" stroke-width="0.8"/><text x="363.00" y="126.17" text-anchor="end" font-size="5" font-weight="bold" fill="#111" stroke="#111" stroke-width="0.12">15</text><path d="M363.20 100.60H365.20" stroke="#333" stroke-width="0.8"/><text x="363.00" y="102.65" text-anchor="end" font-size="5" font-weight="bold" fill="#111" stroke="#111" stroke-width="0.12">20</text><path d="M363.20 77.07H365.20" stroke="#333" stroke-width="0.8"/><text x="363.00" y="79.12" text-anchor="end" font-size="5" font-weight="bold" fill="#111" stroke="#111" stroke-width="0.12">25</text><path d="M363.20 53.55H365.20" stroke="#333" stroke-width="0.8"/><text x="363.00" y="55.60" text-anchor="end" font-size="5" font-weight="bold" fill="#111" stroke="#111" stroke-width="0.12">30</text><path d="M363.20 30.02H365.20" stroke="#333" stroke-width="0.8"/><text x="363.00" y="32.07" text-anchor="end" font-size="5" font-weight="bold" fill="#111" stroke="#111" stroke-width="0.12">35</text><path d="M363.20 6.50H365.20" stroke="#333" stroke-width="0.8"/><text x="363.00" y="8.55" text-anchor="end" font-size="5" font-weight="bold" fill="#111" stroke="#111" stroke-width="0.12">40</text><path d="M371.50 194.70V196.30" stroke="#333" stroke-width="0.7"/><text x="371.50" y="202.60" text-anchor="middle" font-size="5" font-weight="bold" fill="#111" stroke="#111" stroke-width="0.12">1</text><path d="M384.35 194.70V196.30" stroke="#333" stroke-width="0.7"/><text x="384.35" y="202.60" text-anchor="middle" font-size="5" font-weight="bold" fill="#111" stroke="#111" stroke-width="0.12">2</text><path d="M397.20 194.70V196.30" stroke="#333" stroke-width="0.7"/><text x="397.20" y="202.60" text-anchor="middle" font-size="5" font-weight="bold" fill="#111" stroke="#111" stroke-width="0.12">3</text><path d="M410.05 194.70V196.30" stroke="#333" stroke-width="0.7"/><text x="410.05" y="202.60" text-anchor="middle" font-size="5" font-weight="bold" fill="#111" stroke="#111" stroke-width="0.12">4</text><path d="M422.90 194.70V196.30" stroke="#333" stroke-width="0.7"/><text x="422.90" y="202.60" text-anchor="middle" font-size="5" font-weight="bold" fill="#111" stroke="#111" stroke-width="0.12">5</text><path d="M435.75 194.70V196.30" stroke="#333" stroke-width="0.7"/><text x="435.75" y="202.60" text-anchor="middle" font-size="5" font-weight="bold" fill="#111" stroke="#111" stroke-width="0.12">6</text><path d="M448.60 194.70V196.30" stroke="#333" stroke-width="0.7"/><text x="448.60" y="202.60" text-anchor="middle" font-size="5" font-weight="bold" fill="#111" stroke="#111" stroke-width="0.12">7</text><path d="M461.45 194.70V196.30" stroke="#333" stroke-width="0.7"/><text x="461.45" y="202.60" text-anchor="middle" font-size="5" font-weight="bold" fill="#111" stroke="#111" stroke-width="0.12">8</text><path d="M474.30 194.70V196.30" stroke="#333" stroke-width="0.7"/><text x="474.30" y="202.60" text-anchor="middle" font-size="5" font-weight="bold" fill="#111" stroke="#111" stroke-width="0.12">9</text><path d="M487.15 194.70V196.30" stroke="#333" stroke-width="0.7"/><text x="487.15" y="202.60" text-anchor="middle" font-size="5" font-weight="bold" fill="#111" stroke="#111" stroke-width="0.12">10</text><path d="M500.00 194.70V196.30" stroke="#333" stroke-width="0.7"/><text x="500.00" y="202.60" text-anchor="middle" font-size="5" font-weight="bold" fill="#111" stroke="#111" stroke-width="0.12">11</text><path d="M512.85 194.70V196.30" stroke="#333" stroke-width="0.7"/><text x="512.85" y="202.60" text-anchor="middle" font-size="5" font-weight="bold" fill="#111" stroke="#111" stroke-width="0.12">12</text><path d="M525.70 194.70V196.30" stroke="#333" stroke-width="0.7"/><text x="525.70" y="202.60" text-anchor="middle" font-size="5" font-weight="bold" fill="#111" stroke="#111" stroke-width="0.12">13</text><path d="M538.55 194.70V196.30" stroke="#333" stroke-width="0.7"/><text x="538.55" y="202.60" text-anchor="middle" font-size="5" font-weight="bold" fill="#111" stroke="#111" stroke-width="0.12">14</text><path d="M551.40 194.70V196.30" stroke="#333" stroke-width="0.7"/><text x="551.40" y="202.60" text-anchor="middle" font-size="5" font-weight="bold" fill="#111" stroke="#111" stroke-width="0.12">15</text><path d="M564.25 194.70V196.30" stroke="#333" stroke-width="0.7"/><text x="564.25" y="202.60" text-anchor="middle" font-size="5" font-weight="bold" fill="#111" stroke="#111" stroke-width="0.12">16</text><path d="M577.10 194.70V196.30" stroke="#333" stroke-width="0.7"/><text x="577.10" y="202.60" text-anchor="middle" font-size="5" font-weight="bold" fill="#111" stroke="#111" stroke-width="0.12">17</text><path d="M589.95 194.70V196.30" stroke="#333" stroke-width="0.7"/><text x="589.95" y="202.60" text-anchor="middle" font-size="5" font-weight="bold" fill="#111" stroke="#111" stroke-width="0.12">18</text><path d="M602.80 194.70V196.30" stroke="#333" stroke-width="0.7"/><text x="602.80" y="202.60" text-anchor="middle" font-size="5" font-weight="bold" fill="#111" stroke="#111" stroke-width="0.12">19</text><path d="M615.65 194.70V196.30" stroke="#333" stroke-width="0.7"/><text x="615.65" y="202.60" text-anchor="middle" font-size="5" font-weight="bold" fill="#111" stroke="#111" stroke-width="0.12">20</text><path d="M628.50 194.70V196.30" stroke="#333" stroke-width="0.7"/><text x="628.50" y="202.60" text-anchor="middle" font-size="5" font-weight="bold" fill="#111" stroke="#111" stroke-width="0.12">21</text><path d="M641.35 194.70V196.30" stroke="#333" stroke-width="0.7"/><text x="641.35" y="202.60" text-anchor="middle" font-size="5" font-weight="bold" fill="#111" stroke="#111" stroke-width="0.12">22</text><path d="M654.20 194.70V196.30" stroke="#333" stroke-width="0.7"/><text x="654.20" y="202.60" text-anchor="middle" font-size="5" font-weight="bold" fill="#111" stroke="#111" stroke-width="0.12">23</text><g><path d="M422.90 192.82V194.70" stroke="#262626" stroke-width="0.8" fill="none"/><path d="M421.50 193.52H424.30M421.50 194.14H424.30" stroke="#d42020" stroke-width="0.75" fill="none"/><path d="M421.50 192.82H424.30M421.50 193.92H424.30" stroke="#111" stroke-width="0.75" fill="none"/><path d="M421.50 193.12H424.30M421.50 194.41H424.30" stroke="#111" stroke-width="0.75" fill="none"/><path d="M421.50 193.09H424.30M421.50 194.46H424.30" stroke="#111" stroke-width="0.75" fill="none"/><path d="M421.50 193.45H424.30M421.50 194.54H424.30" stroke="#111" stroke-width="0.75" fill="none"/><path d="M421.50 193.03H424.30M421.50 194.70H424.30" stroke="#111" stroke-width="0.75" fill="none"/><path d="M435.75 189.99V193.76" stroke="#262626" stroke-width="0.8" fill="none"/><path d="M434.35 191.23H437.15M434.35 192.84H437.15" stroke="#d42020" stroke-width="0.75" fill="none"/><path d="M434.35 189.99H437.15M434.35 193.11H437.15" stroke="#111" stroke-width="0.75" fill="none"/><path d="M434.35 190.84H437.15M434.35 192.73H437.15" stroke="#111" stroke-width="0.75" fill="none"/><path d="M434.35 190.58H437.15M434.35 193.04H437.15" stroke="#111" stroke-width="0.75" fill="none"/><path d="M434.35 190.62H437.15M434.35 193.76H437.15" stroke="#111" stroke-width="0.75" fill="none"/><path d="M448.60 182.47V191.88" stroke="#262626" stroke-width="0.8" fill="none"/><path d="M447.20 186.23H450.00M447.20 189.10H450.00" stroke="#d42020" stroke-width="0.75" fill="none"/><path d="M447.20 182.47H450.00M447.20 190.74H450.00" stroke="#111" stroke-width="0.75" fill="none"/><path d="M447.20 185.14H450.00M447.20 190.26H450.00" stroke="#111" stroke-width="0.75" fill="none"/><path d="M447.20 183.43H450.00M447.20 191.38H450.00" stroke="#111" stroke-width="0.75" fill="none"/><path d="M447.20 184.15H450.00M447.20 190.36H450.00" stroke="#111" stroke-width="0.75" fill="none"/><path d="M447.20 186.80H450.00M447.20 190.38H450.00" stroke="#111" stroke-width="0.75" fill="none"/><path d="M447.20 183.71H450.00M447.20 191.88H450.00" stroke="#111" stroke-width="0.75" fill="none"/><path d="M461.45 159.41V182.94" stroke="#262626" stroke-width="0.8" fill="none"/><path d="M460.05 168.97H462.85M460.05 178.26H462.85" stroke="#d42020" stroke-width="0.75" fill="none"/><path d="M460.05 159.41H462.85M460.05 180.30H462.85" stroke="#111" stroke-width="0.75" fill="none"/><path d="M460.05 165.81H462.85M460.05 179.02H462.85" stroke="#111" stroke-width="0.75" fill="none"/><path d="M460.05 168.23H462.85M460.05 180.59H462.85" stroke="#111" stroke-width="0.75" fill="none"/><path d="M460.05 165.13H462.85M460.05 182.94H462.85" stroke="#111" stroke-width="0.75" fill="none"/><path d="M474.30 121.77V154.71" stroke="#262626" stroke-width="0.8" fill="none"/><path d="M472.90 132.73H475.70M472.90 145.31H475.70" stroke="#d42020" stroke-width="0.75" fill="none"/><path d="M472.90 121.77H475.70M472.90 149.10H475.70" stroke="#111" stroke-width="0.75" fill="none"/><path d="M472.90 128.74H475.70M472.90 152.11H475.70" stroke="#111" stroke-width="0.75" fill="none"/><path d="M472.90 128.68H475.70M472.90 151.15H475.70" stroke="#111" stroke-width="0.75" fill="none"/><path d="M472.90 134.67H475.70M472.90 151.98H475.70" stroke="#111" stroke-width="0.75" fill="none"/><path d="M472.90 129.80H475.70M472.90 153.34H475.70" stroke="#111" stroke-width="0.75" fill="none"/><path d="M472.90 129.21H475.70M472.90 154.71H475.70" stroke="#111" stroke-width="0.75" fill="none"/><path d="M487.15 83.19V117.54" stroke="#262626" stroke-width="0.8" fill="none"/><path d="M485.75 92.26H488.55M485.75 107.26H488.55" stroke="#d42020" stroke-width="0.75" fill="none"/><path d="M485.75 83.19H488.55M485.75 113.04H488.55" stroke="#111" stroke-width="0.75" fill="none"/><path d="M485.75 87.05H488.55M485.75 111.66H488.55" stroke="#111" stroke-width="0.75" fill="none"/><path d="M485.75 95.39H488.55M485.75 108.93H488.55" stroke="#111" stroke-width="0.75" fill="none"/><path d="M485.75 88.32H488.55M485.75 112.16H488.55" stroke="#111" stroke-width="0.75" fill="none"/><path d="M485.75 85.91H488.55M485.75 114.43H488.55" stroke="#111" stroke-width="0.75" fill="none"/><path d="M485.75 86.53H488.55M485.75 117.54H488.55" stroke="#111" stroke-width="0.75" fill="none"/><path d="M500.00 43.20V84.13" stroke="#262626" stroke-width="0.8" fill="none"/><path d="M498.60 53.02H501.40M498.60 71.69H501.40" stroke="#d42020" stroke-width="0.75" fill="none"/><path d="M498.60 43.20H501.40M498.60 71.71H501.40" stroke="#111" stroke-width="0.75" fill="none"/><path d="M498.60 54.43H501.40M498.60 80.72H501.40" stroke="#111" stroke-width="0.75" fill="none"/><path d="M498.60 48.16H501.40M498.60 78.74H501.40" stroke="#111" stroke-width="0.75" fill="none"/><path d="M498.60 47.46H501.40M498.60 81.51H501.40" stroke="#111" stroke-width="0.75" fill="none"/><path d="M498.60 58.04H501.40M498.60 78.75H501.40" stroke="#111" stroke-width="0.75" fill="none"/><path d="M498.60 54.54H501.40M498.60 84.13H501.40" stroke="#111" stroke-width="0.75" fill="none"/><path d="M512.85 33.32V62.49" stroke="#262626" stroke-width="0.8" fill="none"/><path d="M511.45 46.69H514.25M511.45 58.11H514.25" stroke="#d42020" stroke-width="0.75" fill="none"/><path d="M511.45 33.32H514.25M511.45 59.43H514.25" stroke="#111" stroke-width="0.75" fill="none"/><path d="M511.45 36.17H514.25M511.45 61.17H514.25" stroke="#111" stroke-width="0.75" fill="none"/><path d="M511.45 41.86H514.25M511.45 57.87H514.25" stroke="#111" stroke-width="0.75" fill="none"/><path d="M511.45 46.71H514.25M511.45 60.73H514.25" stroke="#111" stroke-width="0.75" fill="none"/><path d="M511.45 37.59H514.25M511.45 59.42H514.25" stroke="#111" stroke-width="0.75" fill="none"/><path d="M511.45 39.83H514.25M511.45 62.49H514.25" stroke="#111" stroke-width="0.75" fill="none"/><path d="M525.70 45.55V75.19" stroke="#262626" stroke-width="0.8" fill="none"/><path d="M524.30 55.88H527.10M524.30 71.88H527.10" stroke="#d42020" stroke-width="0.75" fill="none"/><path d="M524.30 45.55H527.10M524.30 70.63H527.10" stroke="#111" stroke-width="0.75" fill="none"/><path d="M524.30 57.90H527.10M524.30 72.98H527.10" stroke="#111" stroke-width="0.75" fill="none"/><path d="M524.30 61.14H527.10M524.30 73.35H527.10" stroke="#111" stroke-width="0.75" fill="none"/><path d="M524.30 61.99H527.10M524.30 74.38H527.10" stroke="#111" stroke-width="0.75" fill="none"/><path d="M524.30 54.54H527.10M524.30 74.78H527.10" stroke="#111" stroke-width="0.75" fill="none"/><path d="M524.30 53.76H527.10M524.30 75.19H527.10" stroke="#111" stroke-width="0.75" fill="none"/><path d="M538.55 73.31V94.01" stroke="#262626" stroke-width="0.8" fill="none"/><path d="M537.15 78.53H539.95M537.15 88.23H539.95" stroke="#d42020" stroke-width="0.75" fill="none"/><path d="M537.15 73.31H539.95M537.15 91.96H539.95" stroke="#111" stroke-width="0.75" fill="none"/><path d="M537.15 77.20H539.95M537.15 91.19H539.95" stroke="#111" stroke-width="0.75" fill="none"/><path d="M537.15 81.78H539.95M537.15 92.17H539.95" stroke="#111" stroke-width="0.75" fill="none"/><path d="M537.15 79.62H539.95M537.15 92.65H539.95" stroke="#111" stroke-width="0.75" fill="none"/><path d="M537.15 84.35H539.95M537.15 94.01H539.95" stroke="#111" stroke-width="0.75" fill="none"/><path d="M551.40 87.43V105.78" stroke="#262626" stroke-width="0.8" fill="none"/><path d="M550.00 93.00H552.80M550.00 102.16H552.80" stroke="#d42020" stroke-width="0.75" fill="none"/><path d="M550.00 87.43H552.80M550.00 102.56H552.80" stroke="#111" stroke-width="0.75" fill="none"/><path d="M550.00 89.15H552.80M550.00 104.59H552.80" stroke="#111" stroke-width="0.75" fill="none"/><path d="M550.00 91.83H552.80M550.00 103.71H552.80" stroke="#111" stroke-width="0.75" fill="none"/><path d="M550.00 89.98H552.80M550.00 104.01H552.80" stroke="#111" stroke-width="0.75" fill="none"/><path d="M550.00 95.76H552.80M550.00 105.78H552.80" stroke="#111" stroke-width="0.75" fill="none"/><path d="M564.25 95.42V111.89" stroke="#262626" stroke-width="0.8" fill="none"/><path d="M562.85 101.99H565.65M562.85 108.72H565.65" stroke="#d42020" stroke-width="0.75" fill="none"/><path d="M562.85 95.42H565.65M562.85 107.15H565.65" stroke="#111" stroke-width="0.75" fill="none"/><path d="M562.85 97.31H565.65M562.85 108.78H565.65" stroke="#111" stroke-width="0.75" fill="none"/><path d="M562.85 97.42H565.65M562.85 109.97H565.65" stroke="#111" stroke-width="0.75" fill="none"/><path d="M562.85 102.81H565.65M562.85 111.10H565.65" stroke="#111" stroke-width="0.75" fill="none"/><path d="M562.85 97.48H565.65M562.85 111.54H565.65" stroke="#111" stroke-width="0.75" fill="none"/><path d="M562.85 105.21H565.65M562.85 111.89H565.65" stroke="#111" stroke-width="0.75" fill="none"/><path d="M577.10 102.48V118.48" stroke="#262626" stroke-width="0.8" fill="none"/><path d="M575.70 109.31H578.50M575.70 114.49H578.50" stroke="#d42020" stroke-width="0.75" fill="none"/><path d="M575.70 102.48H578.50M575.70 112.56H578.50" stroke="#111" stroke-width="0.75" fill="none"/><path d="M575.70 103.84H578.50M575.70 114.87H578.50" stroke="#111" stroke-width="0.75" fill="none"/><path d="M575.70 109.68H578.50M575.70 117.71H578.50" stroke="#111" stroke-width="0.75" fill="none"/><path d="M575.70 107.14H578.50M575.70 117.95H578.50" stroke="#111" stroke-width="0.75" fill="none"/><path d="M575.70 104.64H578.50M575.70 117.59H578.50" stroke="#111" stroke-width="0.75" fill="none"/><path d="M575.70 111.55H578.50M575.70 118.48H578.50" stroke="#111" stroke-width="0.75" fill="none"/><path d="M589.95 107.66V122.71" stroke="#262626" stroke-width="0.8" fill="none"/><path d="M588.55 113.16H591.35M588.55 119.10H591.35" stroke="#d42020" stroke-width="0.75" fill="none"/><path d="M588.55 107.66H591.35M588.55 116.25H591.35" stroke="#111" stroke-width="0.75" fill="none"/><path d="M588.55 108.99H591.35M588.55 118.42H591.35" stroke="#111" stroke-width="0.75" fill="none"/><path d="M588.55 113.58H591.35M588.55 120.47H591.35" stroke="#111" stroke-width="0.75" fill="none"/><path d="M588.55 109.06H591.35M588.55 120.71H591.35" stroke="#111" stroke-width="0.75" fill="none"/><path d="M588.55 115.71H591.35M588.55 122.71H591.35" stroke="#111" stroke-width="0.75" fill="none"/><path d="M602.80 111.89V127.42" stroke="#262626" stroke-width="0.8" fill="none"/><path d="M601.40 117.74H604.20M601.40 121.92H604.20" stroke="#d42020" stroke-width="0.75" fill="none"/><path d="M601.40 111.89H604.20M601.40 124.87H604.20" stroke="#111" stroke-width="0.75" fill="none"/><path d="M601.40 113.87H604.20M601.40 126.47H604.20" stroke="#111" stroke-width="0.75" fill="none"/><path d="M601.40 116.25H604.20M601.40 126.57H604.20" stroke="#111" stroke-width="0.75" fill="none"/><path d="M601.40 119.68H604.20M601.40 127.42H604.20" stroke="#111" stroke-width="0.75" fill="none"/><path d="M615.65 115.66V132.12" stroke="#262626" stroke-width="0.8" fill="none"/><path d="M614.25 118.74H617.05M614.25 126.61H617.05" stroke="#d42020" stroke-width="0.75" fill="none"/><path d="M614.25 115.66H617.05M614.25 130.40H617.05" stroke="#111" stroke-width="0.75" fill="none"/><path d="M614.25 119.53H617.05M614.25 130.38H617.05" stroke="#111" stroke-width="0.75" fill="none"/><path d="M614.25 118.28H617.05M614.25 129.95H617.05" stroke="#111" stroke-width="0.75" fill="none"/><path d="M614.25 124.07H617.05M614.25 130.33H617.05" stroke="#111" stroke-width="0.75" fill="none"/><path d="M614.25 119.16H617.05M614.25 132.12H617.05" stroke="#111" stroke-width="0.75" fill="none"/><path d="M628.50 119.42V134.01" stroke="#262626" stroke-width="0.8" fill="none"/><path d="M627.10 125.03H629.90M627.10 130.52H629.90" stroke="#d42020" stroke-width="0.75" fill="none"/><path d="M627.10 119.42H629.90M627.10 130.62H629.90" stroke="#111" stroke-width="0.75" fill="none"/><path d="M627.10 121.40H629.90M627.10 130.27H629.90" stroke="#111" stroke-width="0.75" fill="none"/><path d="M627.10 125.45H629.90M627.10 130.86H629.90" stroke="#111" stroke-width="0.75" fill="none"/><path d="M627.10 127.11H629.90M627.10 132.78H629.90" stroke="#111" stroke-width="0.75" fill="none"/><path d="M627.10 127.52H629.90M627.10 134.01H629.90" stroke="#111" stroke-width="0.75" fill="none"/><path d="M641.35 121.77V137.30" stroke="#262626" stroke-width="0.8" fill="none"/><path d="M639.95 127.09H642.75M639.95 130.53H642.75" stroke="#d42020" stroke-width="0.75" fill="none"/><path d="M639.95 121.77H642.75M639.95 135.22H642.75" stroke="#111" stroke-width="0.75" fill="none"/><path d="M639.95 123.99H642.75M639.95 134.08H642.75" stroke="#111" stroke-width="0.75" fill="none"/><path d="M639.95 126.86H642.75M639.95 136.49H642.75" stroke="#111" stroke-width="0.75" fill="none"/><path d="M639.95 125.46H642.75M639.95 135.40H642.75" stroke="#111" stroke-width="0.75" fill="none"/><path d="M639.95 126.56H642.75M639.95 136.85H642.75" stroke="#111" stroke-width="0.75" fill="none"/><path d="M639.95 126.76H642.75M639.95 137.30H642.75" stroke="#111" stroke-width="0.75" fill="none"/><path d="M654.20 125.07V139.65" stroke="#262626" stroke-width="0.8" fill="none"/><path d="M652.80 129.80H655.60M652.80 135.61H655.60" stroke="#d42020" stroke-width="0.75" fill="none"/><path d="M652.80 125.07H655.60M652.80 135.86H655.60" stroke="#111" stroke-width="0.75" fill="none"/><path d="M652.80 127.09H655.60M652.80 139.01H655.60" stroke="#111" stroke-width="0.75" fill="none"/><path d="M652.80 130.36H655.60M652.80 138.14H655.60" stroke="#111" stroke-width="0.75" fill="none"/><path d="M652.80 128.18H655.60M652.80 139.65H655.60" stroke="#111" stroke-width="0.75" fill="none"/><path d="M667.05 126.95V142.00" stroke="#262626" stroke-width="0.8" fill="none"/><path d="M665.65 132.05H668.45M665.65 138.17H668.45" stroke="#d42020" stroke-width="0.75" fill="none"/><path d="M665.65 126.95H668.45M665.65 140.71H668.45" stroke="#111" stroke-width="0.75" fill="none"/><path d="M665.65 127.62H668.45M665.65 136.48H668.45" stroke="#111" stroke-width="0.75" fill="none"/><path d="M665.65 133.66H668.45M665.65 140.46H668.45" stroke="#111" stroke-width="0.75" fill="none"/><path d="M665.65 130.02H668.45M665.65 141.29H668.45" stroke="#111" stroke-width="0.75" fill="none"/><path d="M665.65 133.15H668.45M665.65 142.00H668.45" stroke="#111" stroke-width="0.75" fill="none"/><polyline points="410.05,194.70 422.90,193.76 435.75,191.64 448.60,187.64 461.45,172.12 474.30,137.77 487.15,100.13 500.00,66.72 512.85,51.67 525.70,67.19 538.55,84.60 551.40,99.19 564.25,105.30 577.10,113.30 589.95,117.07 602.80,120.36 615.65,123.18 628.50,126.48 641.35,128.83 654.20,131.18 667.05,134.01" fill="none" stroke="#c81818" stroke-width="0.7"/><polyline points="371.50,194.70 384.35,194.70 397.20,194.70 410.05,194.70 422.90,193.29 435.75,190.94 448.60,186.23 461.45,169.29 474.30,134.01 487.15,94.95 500.00,58.73 512.85,45.08 525.70,58.25 538.55,78.96 551.40,93.54 564.25,99.66 577.10,108.13 589.95,111.89 602.80,116.60 615.65,119.89 628.50,123.65 641.35,126.48 654.20,128.83 667.05,131.65" fill="none" stroke="#000" stroke-width="0.7"/><polyline points="410.05,194.70 422.90,193.52 435.75,191.41 448.60,186.70 461.45,170.70 474.30,135.89 487.15,97.78 500.00,64.37 512.85,53.55 525.70,64.84 538.55,82.72 551.40,96.84 564.25,102.95 577.10,110.48 589.95,114.71 602.80,118.48 615.65,121.77 628.50,125.07 641.35,127.42 654.20,129.77 667.05,132.59" fill="none" stroke="#000" stroke-width="0.7"/><polyline points="410.05,194.70 422.90,193.76 435.75,191.88 448.60,188.11 461.45,173.53 474.30,139.18 487.15,102.48 500.00,68.61 512.85,54.49 525.70,68.61 538.55,86.01 551.40,100.13 564.25,106.72 577.10,114.24 589.95,118.48 602.80,122.24 615.65,125.54 628.50,128.83 641.35,131.65 654.20,134.01 667.05,136.83" fill="none" stroke="#000" stroke-width="0.7"/><polyline points="410.05,194.70 422.90,193.99 435.75,192.11 448.60,188.58 461.45,174.47 474.30,140.59 487.15,104.83 500.00,70.49 512.85,55.43 525.70,70.02 538.55,87.43 551.40,101.07 564.25,108.13 577.10,115.19 589.95,119.42 602.80,123.65 615.65,126.95 628.50,130.24 641.35,133.06 654.20,135.42 667.05,138.24" fill="none" stroke="#000" stroke-width="0.7"/><polyline points="410.05,194.70 422.90,194.23 435.75,192.35 448.60,189.05 461.45,175.88 474.30,142.00 487.15,107.19 500.00,72.37 512.85,56.37 525.70,71.90 538.55,88.37 551.40,102.01 564.25,109.54 577.10,116.13 589.95,120.36 602.80,124.60 615.65,128.36 628.50,131.18 641.35,134.01 654.20,136.36 667.05,139.18" fill="none" stroke="#000" stroke-width="0.7"/><polyline points="410.05,194.70 422.90,194.23 435.75,192.58 448.60,189.52 461.45,176.82 474.30,143.89 487.15,109.07 500.00,73.78 512.85,57.31 525.70,73.31 538.55,89.78 551.40,102.95 564.25,110.48 577.10,117.07 589.95,121.30 602.80,125.54 615.65,129.30 628.50,132.12 641.35,134.95 654.20,137.30 667.05,140.12" fill="none" stroke="#000" stroke-width="0.7"/><polyline points="410.05,194.70 422.90,194.46 435.75,192.82 448.60,189.99 461.45,177.76 474.30,145.30 487.15,110.95 500.00,75.19 512.85,58.25 525.70,74.72 538.55,90.72 551.40,103.89 564.25,111.42 577.10,118.01 589.95,122.24 602.80,126.48 615.65,130.24 628.50,133.06 641.35,135.89 654.20,138.24 667.05,141.06" fill="none" stroke="#000" stroke-width="0.7"/><circle cx="371.50" cy="194.70" r="1.35" fill="#e01010"/><circle cx="384.35" cy="194.70" r="1.35" fill="#e01010"/><circle cx="397.20" cy="194.70" r="1.35" fill="#e01010"/><circle cx="410.05" cy="194.70" r="1.35" fill="#e01010"/><circle cx="422.90" cy="193.76" r="1.35" fill="#e01010"/><circle cx="435.75" cy="191.64" r="1.35" fill="#e01010"/><circle cx="448.60" cy="187.64" r="1.35" fill="#e01010"/><circle cx="461.45" cy="172.12" r="1.35" fill="#e01010"/><circle cx="474.30" cy="137.77" r="1.35" fill="#e01010"/><circle cx="487.15" cy="100.13" r="1.35" fill="#e01010"/><circle cx="500.00" cy="66.72" r="1.35" fill="#e01010"/><circle cx="512.85" cy="51.67" r="1.35" fill="#e01010"/><circle cx="525.70" cy="67.19" r="1.35" fill="#e01010"/><circle cx="538.55" cy="84.60" r="1.35" fill="#e01010"/><circle cx="551.40" cy="99.19" r="1.35" fill="#e01010"/><circle cx="564.25" cy="105.30" r="1.35" fill="#e01010"/><circle cx="577.10" cy="113.30" r="1.35" fill="#e01010"/><circle cx="589.95" cy="117.07" r="1.35" fill="#e01010"/><circle cx="602.80" cy="120.36" r="1.35" fill="#e01010"/><circle cx="615.65" cy="123.18" r="1.35" fill="#e01010"/><circle cx="628.50" cy="126.48" r="1.35" fill="#e01010"/><circle cx="641.35" cy="128.83" r="1.35" fill="#e01010"/><circle cx="654.20" cy="131.18" r="1.35" fill="#e01010"/><circle cx="667.05" cy="134.01" r="1.35" fill="#e01010"/><circle cx="371.50" cy="194.70" r="1.35" fill="#000"/><circle cx="384.35" cy="194.70" r="1.35" fill="#000"/><circle cx="397.20" cy="194.70" r="1.35" fill="#000"/><circle cx="410.05" cy="194.70" r="1.35" fill="#000"/><circle cx="422.90" cy="193.29" r="1.35" fill="#000"/><circle cx="435.75" cy="190.94" r="1.35" fill="#000"/><circle cx="448.60" cy="186.23" r="1.35" fill="#000"/><circle cx="461.45" cy="169.29" r="1.35" fill="#000"/><circle cx="474.30" cy="134.01" r="1.35" fill="#000"/><circle cx="487.15" cy="94.95" r="1.35" fill="#000"/><circle cx="500.00" cy="58.73" r="1.35" fill="#000"/><circle cx="512.85" cy="45.08" r="1.35" fill="#000"/><circle cx="525.70" cy="58.25" r="1.35" fill="#000"/><circle cx="538.55" cy="78.96" r="1.35" fill="#000"/><circle cx="551.40" cy="93.54" r="1.35" fill="#000"/><circle cx="564.25" cy="99.66" r="1.35" fill="#000"/><circle cx="577.10" cy="108.13" r="1.35" fill="#000"/><circle cx="589.95" cy="111.89" r="1.35" fill="#000"/><circle cx="602.80" cy="116.60" r="1.35" fill="#000"/><circle cx="615.65" cy="119.89" r="1.35" fill="#000"/><circle cx="628.50" cy="123.65" r="1.35" fill="#000"/><circle cx="641.35" cy="126.48" r="1.35" fill="#000"/><circle cx="654.20" cy="128.83" r="1.35" fill="#000"/><circle cx="667.05" cy="131.65" r="1.35" fill="#000"/><circle cx="371.50" cy="194.70" r="1.78" fill="#000"/><circle cx="384.35" cy="194.70" r="1.78" fill="#000"/><circle cx="397.20" cy="194.70" r="1.78" fill="#000"/><circle cx="410.05" cy="194.70" r="1.78" fill="#000"/><circle cx="422.90" cy="193.52" r="1.78" fill="#000"/><circle cx="435.75" cy="191.41" r="1.78" fill="#000"/><circle cx="448.60" cy="186.70" r="1.78" fill="#000"/><circle cx="461.45" cy="170.70" r="1.78" fill="#000"/><circle cx="474.30" cy="135.89" r="1.78" fill="#000"/><circle cx="487.15" cy="97.78" r="1.78" fill="#000"/><circle cx="500.00" cy="64.37" r="1.78" fill="#000"/><circle cx="512.85" cy="53.55" r="1.78" fill="#000"/><circle cx="525.70" cy="64.84" r="1.78" fill="#000"/><circle cx="538.55" cy="82.72" r="1.78" fill="#000"/><circle cx="551.40" cy="96.84" r="1.78" fill="#000"/><circle cx="564.25" cy="102.95" r="1.78" fill="#000"/><circle cx="577.10" cy="110.48" r="1.78" fill="#000"/><circle cx="589.95" cy="114.71" r="1.78" fill="#000"/><circle cx="602.80" cy="118.48" r="1.78" fill="#000"/><circle cx="615.65" cy="121.77" r="1.78" fill="#000"/><circle cx="628.50" cy="125.07" r="1.78" fill="#000"/><circle cx="641.35" cy="127.42" r="1.78" fill="#000"/><circle cx="654.20" cy="129.77" r="1.78" fill="#000"/><circle cx="667.05" cy="132.59" r="1.78" fill="#000"/><path d="M371.50 193.08L373.12 196.00L369.88 196.00Z" fill="#000"/><path d="M384.35 193.08L385.97 196.00L382.73 196.00Z" fill="#000"/><path d="M397.20 193.08L398.82 196.00L395.58 196.00Z" fill="#000"/><path d="M410.05 193.08L411.67 196.00L408.43 196.00Z" fill="#000"/><path d="M422.90 192.14L424.52 195.05L421.28 195.05Z" fill="#000"/><path d="M435.75 190.26L437.37 193.17L434.13 193.17Z" fill="#000"/><path d="M448.60 186.49L450.22 189.41L446.98 189.41Z" fill="#000"/><path d="M461.45 171.91L463.07 174.82L459.83 174.82Z" fill="#000"/><path d="M474.30 137.56L475.92 140.48L472.68 140.48Z" fill="#000"/><path d="M487.15 100.86L488.77 103.78L485.53 103.78Z" fill="#000"/><path d="M500.00 66.99L501.62 69.90L498.38 69.90Z" fill="#000"/><path d="M512.85 52.87L514.47 55.79L511.23 55.79Z" fill="#000"/><path d="M525.70 66.99L527.32 69.90L524.08 69.90Z" fill="#000"/><path d="M538.55 84.39L540.17 87.31L536.93 87.31Z" fill="#000"/><path d="M551.40 98.51L553.02 101.43L549.78 101.43Z" fill="#000"/><path d="M564.25 105.10L565.87 108.01L562.63 108.01Z" fill="#000"/><path d="M577.10 112.62L578.72 115.54L575.48 115.54Z" fill="#000"/><path d="M589.95 116.86L591.57 119.77L588.33 119.77Z" fill="#000"/><path d="M602.80 120.62L604.42 123.54L601.18 123.54Z" fill="#000"/><path d="M615.65 123.92L617.27 126.83L614.03 126.83Z" fill="#000"/><path d="M628.50 127.21L630.12 130.13L626.88 130.13Z" fill="#000"/><path d="M641.35 130.03L642.97 132.95L639.73 132.95Z" fill="#000"/><path d="M654.20 132.39L655.82 135.30L652.58 135.30Z" fill="#000"/><path d="M667.05 135.21L668.67 138.12L665.43 138.12Z" fill="#000"/><path d="M371.50 196.32L373.12 193.40L369.88 193.40Z" fill="#000"/><path d="M384.35 196.32L385.97 193.40L382.73 193.40Z" fill="#000"/><path d="M397.20 196.32L398.82 193.40L395.58 193.40Z" fill="#000"/><path d="M410.05 196.32L411.67 193.40L408.43 193.40Z" fill="#000"/><path d="M422.90 195.61L424.52 192.70L421.28 192.70Z" fill="#000"/><path d="M435.75 193.73L437.37 190.82L434.13 190.82Z" fill="#000"/><path d="M448.60 190.20L450.22 187.29L446.98 187.29Z" fill="#000"/><path d="M461.45 176.09L463.07 173.17L459.83 173.17Z" fill="#000"/><path d="M474.30 142.21L475.92 139.30L472.68 139.30Z" fill="#000"/><path d="M487.15 106.45L488.77 103.54L485.53 103.54Z" fill="#000"/><path d="M500.00 72.11L501.62 69.19L498.38 69.19Z" fill="#000"/><path d="M512.85 57.05L514.47 54.14L511.23 54.14Z" fill="#000"/><path d="M525.70 71.64L527.32 68.72L524.08 68.72Z" fill="#000"/><path d="M538.55 89.05L540.17 86.13L536.93 86.13Z" fill="#000"/><path d="M551.40 102.69L553.02 99.77L549.78 99.77Z" fill="#000"/><path d="M564.25 109.75L565.87 106.83L562.63 106.83Z" fill="#000"/><path d="M577.10 116.81L578.72 113.89L575.48 113.89Z" fill="#000"/><path d="M589.95 121.04L591.57 118.12L588.33 118.12Z" fill="#000"/><path d="M602.80 125.27L604.42 122.36L601.18 122.36Z" fill="#000"/><path d="M615.65 128.57L617.27 125.65L614.03 125.65Z" fill="#000"/><path d="M628.50 131.86L630.12 128.95L626.88 128.95Z" fill="#000"/><path d="M641.35 134.68L642.97 131.77L639.73 131.77Z" fill="#000"/><path d="M654.20 137.04L655.82 134.12L652.58 134.12Z" fill="#000"/><path d="M667.05 139.86L668.67 136.94L665.43 136.94Z" fill="#000"/><circle cx="371.50" cy="194.70" r="1.35" fill="none" stroke="#111" stroke-width="0.6"/><circle cx="384.35" cy="194.70" r="1.35" fill="none" stroke="#111" stroke-width="0.6"/><circle cx="397.20" cy="194.70" r="1.35" fill="none" stroke="#111" stroke-width="0.6"/><circle cx="410.05" cy="194.70" r="1.35" fill="none" stroke="#111" stroke-width="0.6"/><circle cx="422.90" cy="194.23" r="1.35" fill="none" stroke="#111" stroke-width="0.6"/><circle cx="435.75" cy="192.35" r="1.35" fill="none" stroke="#111" stroke-width="0.6"/><circle cx="448.60" cy="189.05" r="1.35" fill="none" stroke="#111" stroke-width="0.6"/><circle cx="461.45" cy="175.88" r="1.35" fill="none" stroke="#111" stroke-width="0.6"/><circle cx="474.30" cy="142.00" r="1.35" fill="none" stroke="#111" stroke-width="0.6"/><circle cx="487.15" cy="107.19" r="1.35" fill="none" stroke="#111" stroke-width="0.6"/><circle cx="500.00" cy="72.37" r="1.35" fill="none" stroke="#111" stroke-width="0.6"/><circle cx="512.85" cy="56.37" r="1.35" fill="none" stroke="#111" stroke-width="0.6"/><circle cx="525.70" cy="71.90" r="1.35" fill="none" stroke="#111" stroke-width="0.6"/><circle cx="538.55" cy="88.37" r="1.35" fill="none" stroke="#111" stroke-width="0.6"/><circle cx="551.40" cy="102.01" r="1.35" fill="none" stroke="#111" stroke-width="0.6"/><circle cx="564.25" cy="109.54" r="1.35" fill="none" stroke="#111" stroke-width="0.6"/><circle cx="577.10" cy="116.13" r="1.35" fill="none" stroke="#111" stroke-width="0.6"/><circle cx="589.95" cy="120.36" r="1.35" fill="none" stroke="#111" stroke-width="0.6"/><circle cx="602.80" cy="124.60" r="1.35" fill="none" stroke="#111" stroke-width="0.6"/><circle cx="615.65" cy="128.36" r="1.35" fill="none" stroke="#111" stroke-width="0.6"/><circle cx="628.50" cy="131.18" r="1.35" fill="none" stroke="#111" stroke-width="0.6"/><circle cx="641.35" cy="134.01" r="1.35" fill="none" stroke="#111" stroke-width="0.6"/><circle cx="654.20" cy="136.36" r="1.35" fill="none" stroke="#111" stroke-width="0.6"/><circle cx="667.05" cy="139.18" r="1.35" fill="none" stroke="#111" stroke-width="0.6"/><circle cx="371.50" cy="194.70" r="1.62" fill="none" stroke="#111" stroke-width="0.7"/><circle cx="384.35" cy="194.70" r="1.62" fill="none" stroke="#111" stroke-width="0.7"/><circle cx="397.20" cy="194.70" r="1.62" fill="none" stroke="#111" stroke-width="0.7"/><circle cx="410.05" cy="194.70" r="1.62" fill="none" stroke="#111" stroke-width="0.7"/><circle cx="422.90" cy="194.23" r="1.62" fill="none" stroke="#111" stroke-width="0.7"/><circle cx="435.75" cy="192.58" r="1.62" fill="none" stroke="#111" stroke-width="0.7"/><circle cx="448.60" cy="189.52" r="1.62" fill="none" stroke="#111" stroke-width="0.7"/><circle cx="461.45" cy="176.82" r="1.62" fill="none" stroke="#111" stroke-width="0.7"/><circle cx="474.30" cy="143.89" r="1.62" fill="none" stroke="#111" stroke-width="0.7"/><circle cx="487.15" cy="109.07" r="1.62" fill="none" stroke="#111" stroke-width="0.7"/><circle cx="500.00" cy="73.78" r="1.62" fill="none" stroke="#111" stroke-width="0.7"/><circle cx="512.85" cy="57.31" r="1.62" fill="none" stroke="#111" stroke-width="0.7"/><circle cx="525.70" cy="73.31" r="1.62" fill="none" stroke="#111" stroke-width="0.7"/><circle cx="538.55" cy="89.78" r="1.62" fill="none" stroke="#111" stroke-width="0.7"/><circle cx="551.40" cy="102.95" r="1.62" fill="none" stroke="#111" stroke-width="0.7"/><circle cx="564.25" cy="110.48" r="1.62" fill="none" stroke="#111" stroke-width="0.7"/><circle cx="577.10" cy="117.07" r="1.62" fill="none" stroke="#111" stroke-width="0.7"/><circle cx="589.95" cy="121.30" r="1.62" fill="none" stroke="#111" stroke-width="0.7"/><circle cx="602.80" cy="125.54" r="1.62" fill="none" stroke="#111" stroke-width="0.7"/><circle cx="615.65" cy="129.30" r="1.62" fill="none" stroke="#111" stroke-width="0.7"/><circle cx="628.50" cy="132.12" r="1.62" fill="none" stroke="#111" stroke-width="0.7"/><circle cx="641.35" cy="134.95" r="1.62" fill="none" stroke="#111" stroke-width="0.7"/><circle cx="654.20" cy="137.30" r="1.62" fill="none" stroke="#111" stroke-width="0.7"/><circle cx="667.05" cy="140.12" r="1.62" fill="none" stroke="#111" stroke-width="0.7"/><path d="M371.50 193.08L373.12 196.00L369.88 196.00Z" fill="none" stroke="#111" stroke-width="0.6"/><path d="M384.35 193.08L385.97 196.00L382.73 196.00Z" fill="none" stroke="#111" stroke-width="0.6"/><path d="M397.20 193.08L398.82 196.00L395.58 196.00Z" fill="none" stroke="#111" stroke-width="0.6"/><path d="M410.05 193.08L411.67 196.00L408.43 196.00Z" fill="none" stroke="#111" stroke-width="0.6"/><path d="M422.90 192.84L424.52 195.76L421.28 195.76Z" fill="none" stroke="#111" stroke-width="0.6"/><path d="M435.75 191.20L437.37 194.11L434.13 194.11Z" fill="none" stroke="#111" stroke-width="0.6"/><path d="M448.60 188.37L450.22 191.29L446.98 191.29Z" fill="none" stroke="#111" stroke-width="0.6"/><path d="M461.45 176.14L463.07 179.06L459.83 179.06Z" fill="none" stroke="#111" stroke-width="0.6"/><path d="M474.30 143.68L475.92 146.59L472.68 146.59Z" fill="none" stroke="#111" stroke-width="0.6"/><path d="M487.15 109.33L488.77 112.25L485.53 112.25Z" fill="none" stroke="#111" stroke-width="0.6"/><path d="M500.00 73.57L501.62 76.49L498.38 76.49Z" fill="none" stroke="#111" stroke-width="0.6"/><path d="M512.85 56.63L514.47 59.55L511.23 59.55Z" fill="none" stroke="#111" stroke-width="0.6"/><path d="M525.70 73.10L527.32 76.02L524.08 76.02Z" fill="none" stroke="#111" stroke-width="0.6"/><path d="M538.55 89.10L540.17 92.02L536.93 92.02Z" fill="none" stroke="#111" stroke-width="0.6"/><path d="M551.40 102.27L553.02 105.19L549.78 105.19Z" fill="none" stroke="#111" stroke-width="0.6"/><path d="M564.25 109.80L565.87 112.72L562.63 112.72Z" fill="none" stroke="#111" stroke-width="0.6"/><path d="M577.10 116.39L578.72 119.30L575.48 119.30Z" fill="none" stroke="#111" stroke-width="0.6"/><path d="M589.95 120.62L591.57 123.54L588.33 123.54Z" fill="none" stroke="#111" stroke-width="0.6"/><path d="M602.80 124.86L604.42 127.77L601.18 127.77Z" fill="none" stroke="#111" stroke-width="0.6"/><path d="M615.65 128.62L617.27 131.54L614.03 131.54Z" fill="none" stroke="#111" stroke-width="0.6"/><path d="M628.50 131.44L630.12 134.36L626.88 134.36Z" fill="none" stroke="#111" stroke-width="0.6"/><path d="M641.35 134.27L642.97 137.18L639.73 137.18Z" fill="none" stroke="#111" stroke-width="0.6"/><path d="M654.20 136.62L655.82 139.54L652.58 139.54Z" fill="none" stroke="#111" stroke-width="0.6"/><path d="M667.05 139.44L668.67 142.36L665.43 142.36Z" fill="none" stroke="#111" stroke-width="0.6"/></g><text x="343.50" y="11.20" font-size="13" font-weight="bold" fill="#000" stroke="#000" stroke-width="0.55">B</text><path d="M376.30 10.20H384.00" stroke="#f00" stroke-width="0.85"/><circle cx="380.10" cy="10.20" r="1.25" fill="#f00"/><text transform="translate(388.00 12.20) scale(0.82 1)" font-size="7.4" fill="#111" stroke="#111" stroke-width="0.15">M116</text><path d="M376.30 17.87H384.00" stroke="#222" stroke-width="0.85"/><circle cx="380.10" cy="17.87" r="1.25" fill="#000"/><text transform="translate(388.00 19.87) scale(0.82 1)" font-size="7.4" fill="#111" stroke="#111" stroke-width="0.15">M116 + 0.5 µg/mL</text><path d="M376.30 25.54H384.00" stroke="#222" stroke-width="0.85"/><circle cx="380.10" cy="25.54" r="1.65" fill="#000"/><text transform="translate(388.00 27.54) scale(0.82 1)" font-size="7.4" fill="#111" stroke="#111" stroke-width="0.15">M116 + 1 µg/mL</text><path d="M376.30 33.21H384.00" stroke="#222" stroke-width="0.85"/><path d="M380.10 31.71L381.60 34.41L378.60 34.41Z" fill="#000"/><text transform="translate(388.00 35.21) scale(0.82 1)" font-size="7.4" fill="#111" stroke="#111" stroke-width="0.15">M116 + 2 µg/mL</text><path d="M376.30 40.88H384.00" stroke="#222" stroke-width="0.85"/><path d="M380.10 42.38L381.60 39.68L378.60 39.68Z" fill="#000"/><text transform="translate(388.00 42.88) scale(0.82 1)" font-size="7.4" fill="#111" stroke="#111" stroke-width="0.15">M116 + 4 µg/mL</text><path d="M376.30 48.55H384.00" stroke="#222" stroke-width="0.85"/><circle cx="380.10" cy="48.55" r="1.25" fill="none" stroke="#111" stroke-width="0.6"/><text transform="translate(388.00 50.55) scale(0.82 1)" font-size="7.4" fill="#111" stroke="#111" stroke-width="0.15">M116 + 8 µg/mL</text><path d="M376.30 56.22H384.00" stroke="#222" stroke-width="0.85"/><circle cx="380.10" cy="56.22" r="1.50" fill="none" stroke="#111" stroke-width="0.7"/><text transform="translate(388.00 58.22) scale(0.82 1)" font-size="7.4" fill="#111" stroke="#111" stroke-width="0.15">M116 + 16 µg/mL</text><path d="M376.30 63.89H384.00" stroke="#222" stroke-width="0.85"/><path d="M380.10 62.39L381.60 65.09L378.60 65.09Z" fill="none" stroke="#111" stroke-width="0.6"/><text transform="translate(388.00 65.89) scale(0.82 1)" font-size="7.4" fill="#111" stroke="#111" stroke-width="0.15">M116 + 32 µg/mL</text><text transform="translate(348.20 99.40) rotate(-90)" text-anchor="middle" font-size="7" fill="#222">Heat flow (µw)</text><text x="519.70" y="214.80" text-anchor="middle" font-size="6.8" fill="#222">Time (h)</text><clipPath id="cC"><rect x="0" y="0" width="321.0" height="445"/></clipPath><path d="M26.30 233.50V422.40H320.50" fill="none" stroke="#333" stroke-width="0.9"/><path d="M24.30 422.40H26.30" stroke="#333" stroke-width="0.8"/><text x="24.10" y="424.45" text-anchor="end" font-size="5" font-weight="bold" fill="#111" stroke="#111" stroke-width="0.12">0</text><path d="M24.30 398.79H26.30" stroke="#333" stroke-width="0.8"/><text x="24.10" y="400.84" text-anchor="end" font-size="5" font-weight="bold" fill="#111" stroke="#111" stroke-width="0.12">5</text><path d="M24.30 375.17H26.30" stroke="#333" stroke-width="0.8"/><text x="24.10" y="377.22" text-anchor="end" font-size="5" font-weight="bold" fill="#111" stroke="#111" stroke-width="0.12">10</text><path d="M24.30 351.56H26.30" stroke="#333" stroke-width="0.8"/><text x="24.10" y="353.61" text-anchor="end" font-size="5" font-weight="bold" fill="#111" stroke="#111" stroke-width="0.12">15</text><path d="M24.30 327.95H26.30" stroke="#333" stroke-width="0.8"/><text x="24.10" y="330.00" text-anchor="end" font-size="5" font-weight="bold" fill="#111" stroke="#111" stroke-width="0.12">20</text><path d="M24.30 304.34H26.30" stroke="#333" stroke-width="0.8"/><text x="24.10" y="306.39" text-anchor="end" font-size="5" font-weight="bold" fill="#111" stroke="#111" stroke-width="0.12">25</text><path d="M24.30 280.73H26.30" stroke="#333" stroke-width="0.8"/><text x="24.10" y="282.78" text-anchor="end" font-size="5" font-weight="bold" fill="#111" stroke="#111" stroke-width="0.12">30</text><path d="M24.30 257.11H26.30" stroke="#333" stroke-width="0.8"/><text x="24.10" y="259.16" text-anchor="end" font-size="5" font-weight="bold" fill="#111" stroke="#111" stroke-width="0.12">35</text><path d="M24.30 233.50H26.30" stroke="#333" stroke-width="0.8"/><text x="24.10" y="235.55" text-anchor="end" font-size="5" font-weight="bold" fill="#111" stroke="#111" stroke-width="0.12">40</text><path d="M33.10 422.40V424.00" stroke="#333" stroke-width="0.7"/><text x="33.10" y="430.00" text-anchor="middle" font-size="5" font-weight="bold" fill="#111" stroke="#111" stroke-width="0.12">1</text><path d="M45.98 422.40V424.00" stroke="#333" stroke-width="0.7"/><text x="45.98" y="430.00" text-anchor="middle" font-size="5" font-weight="bold" fill="#111" stroke="#111" stroke-width="0.12">2</text><path d="M58.86 422.40V424.00" stroke="#333" stroke-width="0.7"/><text x="58.86" y="430.00" text-anchor="middle" font-size="5" font-weight="bold" fill="#111" stroke="#111" stroke-width="0.12">3</text><path d="M71.74 422.40V424.00" stroke="#333" stroke-width="0.7"/><text x="71.74" y="430.00" text-anchor="middle" font-size="5" font-weight="bold" fill="#111" stroke="#111" stroke-width="0.12">4</text><path d="M84.62 422.40V424.00" stroke="#333" stroke-width="0.7"/><text x="84.62" y="430.00" text-anchor="middle" font-size="5" font-weight="bold" fill="#111" stroke="#111" stroke-width="0.12">5</text><path d="M97.50 422.40V424.00" stroke="#333" stroke-width="0.7"/><text x="97.50" y="430.00" text-anchor="middle" font-size="5" font-weight="bold" fill="#111" stroke="#111" stroke-width="0.12">6</text><path d="M110.38 422.40V424.00" stroke="#333" stroke-width="0.7"/><text x="110.38" y="430.00" text-anchor="middle" font-size="5" font-weight="bold" fill="#111" stroke="#111" stroke-width="0.12">7</text><path d="M123.26 422.40V424.00" stroke="#333" stroke-width="0.7"/><text x="123.26" y="430.00" text-anchor="middle" font-size="5" font-weight="bold" fill="#111" stroke="#111" stroke-width="0.12">8</text><path d="M136.14 422.40V424.00" stroke="#333" stroke-width="0.7"/><text x="136.14" y="430.00" text-anchor="middle" font-size="5" font-weight="bold" fill="#111" stroke="#111" stroke-width="0.12">9</text><path d="M149.02 422.40V424.00" stroke="#333" stroke-width="0.7"/><text x="149.02" y="430.00" text-anchor="middle" font-size="5" font-weight="bold" fill="#111" stroke="#111" stroke-width="0.12">10</text><path d="M161.90 422.40V424.00" stroke="#333" stroke-width="0.7"/><text x="161.90" y="430.00" text-anchor="middle" font-size="5" font-weight="bold" fill="#111" stroke="#111" stroke-width="0.12">11</text><path d="M174.78 422.40V424.00" stroke="#333" stroke-width="0.7"/><text x="174.78" y="430.00" text-anchor="middle" font-size="5" font-weight="bold" fill="#111" stroke="#111" stroke-width="0.12">12</text><path d="M187.66 422.40V424.00" stroke="#333" stroke-width="0.7"/><text x="187.66" y="430.00" text-anchor="middle" font-size="5" font-weight="bold" fill="#111" stroke="#111" stroke-width="0.12">13</text><path d="M200.54 422.40V424.00" stroke="#333" stroke-width="0.7"/><text x="200.54" y="430.00" text-anchor="middle" font-size="5" font-weight="bold" fill="#111" stroke="#111" stroke-width="0.12">14</text><path d="M213.42 422.40V424.00" stroke="#333" stroke-width="0.7"/><text x="213.42" y="430.00" text-anchor="middle" font-size="5" font-weight="bold" fill="#111" stroke="#111" stroke-width="0.12">15</text><path d="M226.30 422.40V424.00" stroke="#333" stroke-width="0.7"/><text x="226.30" y="430.00" text-anchor="middle" font-size="5" font-weight="bold" fill="#111" stroke="#111" stroke-width="0.12">16</text><path d="M239.18 422.40V424.00" stroke="#333" stroke-width="0.7"/><text x="239.18" y="430.00" text-anchor="middle" font-size="5" font-weight="bold" fill="#111" stroke="#111" stroke-width="0.12">17</text><path d="M252.06 422.40V424.00" stroke="#333" stroke-width="0.7"/><text x="252.06" y="430.00" text-anchor="middle" font-size="5" font-weight="bold" fill="#111" stroke="#111" stroke-width="0.12">18</text><path d="M264.94 422.40V424.00" stroke="#333" stroke-width="0.7"/><text x="264.94" y="430.00" text-anchor="middle" font-size="5" font-weight="bold" fill="#111" stroke="#111" stroke-width="0.12">19</text><path d="M277.82 422.40V424.00" stroke="#333" stroke-width="0.7"/><text x="277.82" y="430.00" text-anchor="middle" font-size="5" font-weight="bold" fill="#111" stroke="#111" stroke-width="0.12">20</text><path d="M290.70 422.40V424.00" stroke="#333" stroke-width="0.7"/><text x="290.70" y="430.00" text-anchor="middle" font-size="5" font-weight="bold" fill="#111" stroke="#111" stroke-width="0.12">21</text><path d="M303.58 422.40V424.00" stroke="#333" stroke-width="0.7"/><text x="303.58" y="430.00" text-anchor="middle" font-size="5" font-weight="bold" fill="#111" stroke="#111" stroke-width="0.12">22</text><path d="M316.46 422.40V424.00" stroke="#333" stroke-width="0.7"/><text x="316.46" y="430.00" text-anchor="middle" font-size="5" font-weight="bold" fill="#111" stroke="#111" stroke-width="0.12">23</text><g clip-path="url(#cC)"><path d="M97.50 420.04V422.40" stroke="#262626" stroke-width="0.8" fill="none"/><path d="M96.10 420.04H98.90M96.10 421.41H98.90" stroke="#d42020" stroke-width="0.75" fill="none"/><path d="M96.10 420.49H98.90M96.10 422.17H98.90" stroke="#111" stroke-width="0.75" fill="none"/><path d="M96.10 421.33H98.90M96.10 422.32H98.90" stroke="#111" stroke-width="0.75" fill="none"/><path d="M96.10 421.55H98.90M96.10 422.40H98.90" stroke="#111" stroke-width="0.75" fill="none"/><path d="M96.10 420.79H98.90M96.10 422.40H98.90" stroke="#111" stroke-width="0.75" fill="none"/><path d="M110.38 417.68V422.40" stroke="#262626" stroke-width="0.8" fill="none"/><path d="M108.98 417.68H111.78M108.98 420.96H111.78" stroke="#d42020" stroke-width="0.75" fill="none"/><path d="M108.98 418.43H111.78M108.98 421.65H111.78" stroke="#111" stroke-width="0.75" fill="none"/><path d="M108.98 419.06H111.78M108.98 422.29H111.78" stroke="#111" stroke-width="0.75" fill="none"/><path d="M108.98 419.98H111.78M108.98 422.07H111.78" stroke="#111" stroke-width="0.75" fill="none"/><path d="M108.98 419.57H111.78M108.98 422.40H111.78" stroke="#111" stroke-width="0.75" fill="none"/><path d="M123.26 412.95V422.40" stroke="#262626" stroke-width="0.8" fill="none"/><path d="M121.86 412.95H124.66M121.86 419.49H124.66" stroke="#d42020" stroke-width="0.75" fill="none"/><path d="M121.86 414.17H124.66M121.86 421.77H124.66" stroke="#111" stroke-width="0.75" fill="none"/><path d="M121.86 417.42H124.66M121.86 422.12H124.66" stroke="#111" stroke-width="0.75" fill="none"/><path d="M121.86 415.34H124.66M121.86 421.81H124.66" stroke="#111" stroke-width="0.75" fill="none"/><path d="M121.86 414.88H124.66M121.86 422.40H124.66" stroke="#111" stroke-width="0.75" fill="none"/><path d="M136.14 405.40V419.09" stroke="#262626" stroke-width="0.8" fill="none"/><path d="M134.74 405.40H137.54M134.74 411.16H137.54" stroke="#d42020" stroke-width="0.75" fill="none"/><path d="M134.74 407.55H137.54M134.74 416.66H137.54" stroke="#111" stroke-width="0.75" fill="none"/><path d="M134.74 407.71H137.54M134.74 416.60H137.54" stroke="#111" stroke-width="0.75" fill="none"/><path d="M134.74 408.79H137.54M134.74 416.30H137.54" stroke="#111" stroke-width="0.75" fill="none"/><path d="M134.74 409.64H137.54M134.74 416.72H137.54" stroke="#111" stroke-width="0.75" fill="none"/><path d="M134.74 412.72H137.54M134.74 418.10H137.54" stroke="#111" stroke-width="0.75" fill="none"/><path d="M134.74 410.90H137.54M134.74 419.09H137.54" stroke="#111" stroke-width="0.75" fill="none"/><path d="M149.02 386.51V409.18" stroke="#262626" stroke-width="0.8" fill="none"/><path d="M147.62 386.51H150.42M147.62 400.16H150.42" stroke="#d42020" stroke-width="0.75" fill="none"/><path d="M147.62 391.93H150.42M147.62 404.39H150.42" stroke="#111" stroke-width="0.75" fill="none"/><path d="M147.62 393.66H150.42M147.62 406.66H150.42" stroke="#111" stroke-width="0.75" fill="none"/><path d="M147.62 392.14H150.42M147.62 406.08H150.42" stroke="#111" stroke-width="0.75" fill="none"/><path d="M147.62 390.93H150.42M147.62 409.18H150.42" stroke="#111" stroke-width="0.75" fill="none"/><path d="M161.90 358.17V391.70" stroke="#262626" stroke-width="0.8" fill="none"/><path d="M160.50 358.17H163.30M160.50 379.28H163.30" stroke="#d42020" stroke-width="0.75" fill="none"/><path d="M160.50 362.80H163.30M160.50 384.41H163.30" stroke="#111" stroke-width="0.75" fill="none"/><path d="M160.50 364.82H163.30M160.50 383.69H163.30" stroke="#111" stroke-width="0.75" fill="none"/><path d="M160.50 366.37H163.30M160.50 385.16H163.30" stroke="#111" stroke-width="0.75" fill="none"/><path d="M160.50 372.06H163.30M160.50 388.24H163.30" stroke="#111" stroke-width="0.75" fill="none"/><path d="M160.50 366.05H163.30M160.50 391.70H163.30" stroke="#111" stroke-width="0.75" fill="none"/><path d="M174.78 326.53V366.20" stroke="#262626" stroke-width="0.8" fill="none"/><path d="M173.38 326.53H176.18M173.38 355.39H176.18" stroke="#d42020" stroke-width="0.75" fill="none"/><path d="M173.38 337.74H176.18M173.38 360.89H176.18" stroke="#111" stroke-width="0.75" fill="none"/><path d="M173.38 329.55H176.18M173.38 362.39H176.18" stroke="#111" stroke-width="0.75" fill="none"/><path d="M173.38 340.01H176.18M173.38 354.36H176.18" stroke="#111" stroke-width="0.75" fill="none"/><path d="M173.38 329.83H176.18M173.38 363.40H176.18" stroke="#111" stroke-width="0.75" fill="none"/><path d="M173.38 339.00H176.18M173.38 366.20H176.18" stroke="#111" stroke-width="0.75" fill="none"/><path d="M187.66 301.50V347.78" stroke="#262626" stroke-width="0.8" fill="none"/><path d="M186.26 301.50H189.06M186.26 326.08H189.06" stroke="#d42020" stroke-width="0.75" fill="none"/><path d="M186.26 309.95H189.06M186.26 343.00H189.06" stroke="#111" stroke-width="0.75" fill="none"/><path d="M186.26 305.55H189.06M186.26 339.04H189.06" stroke="#111" stroke-width="0.75" fill="none"/><path d="M186.26 304.38H189.06M186.26 336.18H189.06" stroke="#111" stroke-width="0.75" fill="none"/><path d="M186.26 319.03H189.06M186.26 340.54H189.06" stroke="#111" stroke-width="0.75" fill="none"/><path d="M186.26 305.03H189.06M186.26 347.78H189.06" stroke="#111" stroke-width="0.75" fill="none"/><path d="M200.54 293.00V330.31" stroke="#262626" stroke-width="0.8" fill="none"/><path d="M199.14 293.00H201.94M199.14 318.89H201.94" stroke="#d42020" stroke-width="0.75" fill="none"/><path d="M199.14 298.45H201.94M199.14 324.09H201.94" stroke="#111" stroke-width="0.75" fill="none"/><path d="M199.14 296.26H201.94M199.14 318.89H201.94" stroke="#111" stroke-width="0.75" fill="none"/><path d="M199.14 300.68H201.94M199.14 320.53H201.94" stroke="#111" stroke-width="0.75" fill="none"/><path d="M199.14 301.93H201.94M199.14 326.77H201.94" stroke="#111" stroke-width="0.75" fill="none"/><path d="M199.14 312.32H201.94M199.14 330.31H201.94" stroke="#111" stroke-width="0.75" fill="none"/><path d="M213.42 292.53V314.25" stroke="#262626" stroke-width="0.8" fill="none"/><path d="M212.02 292.53H214.82M212.02 306.70H214.82" stroke="#d42020" stroke-width="0.75" fill="none"/><path d="M212.02 296.54H214.82M212.02 308.38H214.82" stroke="#111" stroke-width="0.75" fill="none"/><path d="M212.02 297.39H214.82M212.02 312.20H214.82" stroke="#111" stroke-width="0.75" fill="none"/><path d="M212.02 297.31H214.82M212.02 313.63H214.82" stroke="#111" stroke-width="0.75" fill="none"/><path d="M212.02 300.34H214.82M212.02 313.97H214.82" stroke="#111" stroke-width="0.75" fill="none"/><path d="M212.02 309.56H214.82M212.02 322.28H214.82" stroke="#111" stroke-width="0.75" fill="none"/><path d="M226.30 296.31V331.73" stroke="#262626" stroke-width="0.8" fill="none"/><path d="M224.90 296.31H227.70M224.90 316.31H227.70" stroke="#d42020" stroke-width="0.75" fill="none"/><path d="M224.90 301.55H227.70M224.90 327.46H227.70" stroke="#111" stroke-width="0.75" fill="none"/><path d="M224.90 299.08H227.70M224.90 329.49H227.70" stroke="#111" stroke-width="0.75" fill="none"/><path d="M224.90 305.02H227.70M224.90 324.96H227.70" stroke="#111" stroke-width="0.75" fill="none"/><path d="M224.90 310.79H227.70M224.90 331.73H227.70" stroke="#111" stroke-width="0.75" fill="none"/><path d="M239.18 304.34V343.06" stroke="#262626" stroke-width="0.8" fill="none"/><path d="M237.78 304.34H240.58M237.78 320.15H240.58" stroke="#d42020" stroke-width="0.75" fill="none"/><path d="M237.78 307.18H240.58M237.78 338.81H240.58" stroke="#111" stroke-width="0.75" fill="none"/><path d="M237.78 314.51H240.58M237.78 335.72H240.58" stroke="#111" stroke-width="0.75" fill="none"/><path d="M237.78 319.05H240.58M237.78 340.61H240.58" stroke="#111" stroke-width="0.75" fill="none"/><path d="M237.78 316.68H240.58M237.78 343.06H240.58" stroke="#111" stroke-width="0.75" fill="none"/><path d="M252.06 312.37V353.92" stroke="#262626" stroke-width="0.8" fill="none"/><path d="M250.66 312.37H253.46M250.66 330.93H253.46" stroke="#d42020" stroke-width="0.75" fill="none"/><path d="M250.66 319.26H253.46M250.66 339.56H253.46" stroke="#111" stroke-width="0.75" fill="none"/><path d="M250.66 315.82H253.46M250.66 340.88H253.46" stroke="#111" stroke-width="0.75" fill="none"/><path d="M250.66 316.71H253.46M250.66 350.64H253.46" stroke="#111" stroke-width="0.75" fill="none"/><path d="M250.66 317.16H253.46M250.66 353.92H253.46" stroke="#111" stroke-width="0.75" fill="none"/><path d="M264.94 319.45V357.70" stroke="#262626" stroke-width="0.8" fill="none"/><path d="M263.54 319.45H266.34M263.54 334.82H266.34" stroke="#d42020" stroke-width="0.75" fill="none"/><path d="M263.54 321.60H266.34M263.54 350.85H266.34" stroke="#111" stroke-width="0.75" fill="none"/><path d="M263.54 324.97H266.34M263.54 346.54H266.34" stroke="#111" stroke-width="0.75" fill="none"/><path d="M263.54 322.10H266.34M263.54 347.98H266.34" stroke="#111" stroke-width="0.75" fill="none"/><path d="M263.54 321.97H266.34M263.54 353.18H266.34" stroke="#111" stroke-width="0.75" fill="none"/><path d="M263.54 327.87H266.34M263.54 357.70H266.34" stroke="#111" stroke-width="0.75" fill="none"/><path d="M277.82 328.42V361.95" stroke="#262626" stroke-width="0.8" fill="none"/><path d="M276.42 328.42H279.22M276.42 347.49H279.22" stroke="#d42020" stroke-width="0.75" fill="none"/><path d="M276.42 334.02H279.22M276.42 348.17H279.22" stroke="#111" stroke-width="0.75" fill="none"/><path d="M276.42 333.28H279.22M276.42 349.03H279.22" stroke="#111" stroke-width="0.75" fill="none"/><path d="M276.42 337.42H279.22M276.42 356.51H279.22" stroke="#111" stroke-width="0.75" fill="none"/><path d="M276.42 333.06H279.22M276.42 353.88H279.22" stroke="#111" stroke-width="0.75" fill="none"/><path d="M276.42 337.27H279.22M276.42 361.95H279.22" stroke="#111" stroke-width="0.75" fill="none"/><path d="M290.70 333.62V365.73" stroke="#262626" stroke-width="0.8" fill="none"/><path d="M289.30 333.62H292.10M289.30 352.09H292.10" stroke="#d42020" stroke-width="0.75" fill="none"/><path d="M289.30 334.77H292.10M289.30 361.45H292.10" stroke="#111" stroke-width="0.75" fill="none"/><path d="M289.30 336.82H292.10M289.30 355.51H292.10" stroke="#111" stroke-width="0.75" fill="none"/><path d="M289.30 340.08H292.10M289.30 363.47H292.10" stroke="#111" stroke-width="0.75" fill="none"/><path d="M289.30 343.76H292.10M289.30 359.77H292.10" stroke="#111" stroke-width="0.75" fill="none"/><path d="M289.30 341.10H292.10M289.30 365.73H292.10" stroke="#111" stroke-width="0.75" fill="none"/><path d="M303.58 337.39V368.09" stroke="#262626" stroke-width="0.8" fill="none"/><path d="M302.18 337.39H304.98M302.18 355.06H304.98" stroke="#d42020" stroke-width="0.75" fill="none"/><path d="M302.18 340.97H304.98M302.18 355.63H304.98" stroke="#111" stroke-width="0.75" fill="none"/><path d="M302.18 343.06H304.98M302.18 364.03H304.98" stroke="#111" stroke-width="0.75" fill="none"/><path d="M302.18 345.05H304.98M302.18 363.73H304.98" stroke="#111" stroke-width="0.75" fill="none"/><path d="M302.18 347.29H304.98M302.18 360.13H304.98" stroke="#111" stroke-width="0.75" fill="none"/><path d="M302.18 353.12H304.98M302.18 368.09H304.98" stroke="#111" stroke-width="0.75" fill="none"/><path d="M316.46 340.23V371.87" stroke="#262626" stroke-width="0.8" fill="none"/><path d="M315.06 340.23H317.86M315.06 352.02H317.86" stroke="#d42020" stroke-width="0.75" fill="none"/><path d="M315.06 347.16H317.86M315.06 362.72H317.86" stroke="#111" stroke-width="0.75" fill="none"/><path d="M315.06 347.29H317.86M315.06 365.36H317.86" stroke="#111" stroke-width="0.75" fill="none"/><path d="M315.06 342.83H317.86M315.06 369.87H317.86" stroke="#111" stroke-width="0.75" fill="none"/><path d="M315.06 343.67H317.86M315.06 365.04H317.86" stroke="#111" stroke-width="0.75" fill="none"/><path d="M315.06 344.46H317.86M315.06 371.87H317.86" stroke="#111" stroke-width="0.75" fill="none"/><path d="M329.34 343.06V374.23" stroke="#262626" stroke-width="0.8" fill="none"/><path d="M327.94 343.06H330.74M327.94 360.72H330.74" stroke="#d42020" stroke-width="0.75" fill="none"/><path d="M327.94 348.35H330.74M327.94 364.04H330.74" stroke="#111" stroke-width="0.75" fill="none"/><path d="M327.94 345.32H330.74M327.94 368.13H330.74" stroke="#111" stroke-width="0.75" fill="none"/><path d="M327.94 350.50H330.74M327.94 368.76H330.74" stroke="#111" stroke-width="0.75" fill="none"/><path d="M327.94 354.89H330.74M327.94 374.23H330.74" stroke="#111" stroke-width="0.75" fill="none"/><polyline points="84.62,422.40 97.50,420.98 110.38,419.09 123.26,415.32 136.14,409.18 149.02,396.90 161.90,373.29 174.78,342.59 187.66,319.45 200.54,304.34 213.42,301.50 226.30,304.34 239.18,312.37 252.06,321.81 264.94,328.89 277.82,335.03 290.70,339.76 303.58,343.53 316.46,346.84 329.34,349.20" fill="none" stroke="#c81818" stroke-width="0.7"/><polyline points="33.10,422.40 45.98,422.40 58.86,422.40 71.74,422.40 84.62,422.40 97.50,421.93 110.38,420.98 123.26,418.62 136.14,411.54 149.02,397.84 161.90,375.65 174.78,344.95 187.66,321.81 200.54,305.75 213.42,302.92 226.30,308.12 239.18,319.45 252.06,327.01 264.94,332.20 277.82,338.81 290.70,344.01 303.58,347.78 316.46,351.09 329.34,353.45" fill="none" stroke="#000" stroke-width="0.7"/><polyline points="84.62,422.40 97.50,421.93 110.38,421.22 123.26,419.09 136.14,412.48 149.02,398.79 161.90,377.06 174.78,346.37 187.66,322.76 200.54,307.17 213.42,304.34 226.30,309.53 239.18,320.87 252.06,328.42 264.94,333.62 277.82,339.76 290.70,344.95 303.58,348.73 316.46,352.03 329.34,354.40" fill="none" stroke="#000" stroke-width="0.7"/><polyline points="84.62,422.40 97.50,422.16 110.38,421.46 123.26,419.57 136.14,413.43 149.02,399.73 161.90,378.48 174.78,347.78 187.66,323.70 200.54,308.59 213.42,305.28 226.30,310.95 239.18,322.28 252.06,329.37 264.94,335.03 277.82,340.70 290.70,345.90 303.58,349.67 316.46,352.51 329.34,354.87" fill="none" stroke="#000" stroke-width="0.7"/><polyline points="84.62,422.40 97.50,422.16 110.38,421.46 123.26,420.04 136.14,414.37 149.02,400.68 161.90,379.90 174.78,349.20 187.66,324.64 200.54,310.00 213.42,306.70 226.30,312.37 239.18,323.70 252.06,330.78 264.94,336.45 277.82,341.65 290.70,347.31 303.58,351.09 316.46,353.45 329.34,355.81" fill="none" stroke="#000" stroke-width="0.7"/><polyline points="84.62,422.40 97.50,422.40 110.38,421.69 123.26,420.51 136.14,415.32 149.02,401.62 161.90,381.31 174.78,350.62 187.66,325.59 200.54,311.42 213.42,308.12 226.30,313.78 239.18,325.12 252.06,332.20 264.94,337.87 277.82,343.06 290.70,348.26 303.58,352.03 316.46,353.92 329.34,356.28" fill="none" stroke="#000" stroke-width="0.7"/><polyline points="84.62,422.40 97.50,422.40 110.38,421.93 123.26,420.98 136.14,416.73 149.02,403.04 161.90,382.73 174.78,352.51 187.66,328.89 200.54,314.73 213.42,311.42 226.30,319.45 239.18,330.31 252.06,338.34 264.94,343.06 277.82,349.20 290.70,352.03 303.58,355.81 316.46,358.17 329.34,360.54" fill="none" stroke="#000" stroke-width="0.7"/><polyline points="84.62,422.40 97.50,422.40 110.38,421.93 123.26,421.46 136.14,417.68 149.02,403.98 161.90,384.15 174.78,356.28 187.66,335.03 200.54,323.70 213.42,322.28 226.30,326.53 239.18,335.51 252.06,342.59 264.94,347.78 277.82,355.81 290.70,360.06 303.58,362.90 316.46,366.67 329.34,369.04" fill="none" stroke="#000" stroke-width="0.7"/><circle cx="33.10" cy="422.40" r="1.35" fill="#e01010"/><circle cx="45.98" cy="422.40" r="1.35" fill="#e01010"/><circle cx="58.86" cy="422.40" r="1.35" fill="#e01010"/><circle cx="71.74" cy="422.40" r="1.35" fill="#e01010"/><circle cx="84.62" cy="422.40" r="1.35" fill="#e01010"/><circle cx="97.50" cy="420.98" r="1.35" fill="#e01010"/><circle cx="110.38" cy="419.09" r="1.35" fill="#e01010"/><circle cx="123.26" cy="415.32" r="1.35" fill="#e01010"/><circle cx="136.14" cy="409.18" r="1.35" fill="#e01010"/><circle cx="149.02" cy="396.90" r="1.35" fill="#e01010"/><circle cx="161.90" cy="373.29" r="1.35" fill="#e01010"/><circle cx="174.78" cy="342.59" r="1.35" fill="#e01010"/><circle cx="187.66" cy="319.45" r="1.35" fill="#e01010"/><circle cx="200.54" cy="304.34" r="1.35" fill="#e01010"/><circle cx="213.42" cy="301.50" r="1.35" fill="#e01010"/><circle cx="226.30" cy="304.34" r="1.35" fill="#e01010"/><circle cx="239.18" cy="312.37" r="1.35" fill="#e01010"/><circle cx="252.06" cy="321.81" r="1.35" fill="#e01010"/><circle cx="264.94" cy="328.89" r="1.35" fill="#e01010"/><circle cx="277.82" cy="335.03" r="1.35" fill="#e01010"/><circle cx="290.70" cy="339.76" r="1.35" fill="#e01010"/><circle cx="303.58" cy="343.53" r="1.35" fill="#e01010"/><circle cx="316.46" cy="346.84" r="1.35" fill="#e01010"/><circle cx="329.34" cy="349.20" r="1.35" fill="#e01010"/><circle cx="33.10" cy="422.40" r="1.35" fill="#000"/><circle cx="45.98" cy="422.40" r="1.35" fill="#000"/><circle cx="58.86" cy="422.40" r="1.35" fill="#000"/><circle cx="71.74" cy="422.40" r="1.35" fill="#000"/><circle cx="84.62" cy="422.40" r="1.35" fill="#000"/><circle cx="97.50" cy="421.93" r="1.35" fill="#000"/><circle cx="110.38" cy="420.98" r="1.35" fill="#000"/><circle cx="123.26" cy="418.62" r="1.35" fill="#000"/><circle cx="136.14" cy="411.54" r="1.35" fill="#000"/><circle cx="149.02" cy="397.84" r="1.35" fill="#000"/><circle cx="161.90" cy="375.65" r="1.35" fill="#000"/><circle cx="174.78" cy="344.95" r="1.35" fill="#000"/><circle cx="187.66" cy="321.81" r="1.35" fill="#000"/><circle cx="200.54" cy="305.75" r="1.35" fill="#000"/><circle cx="213.42" cy="302.92" r="1.35" fill="#000"/><circle cx="226.30" cy="308.12" r="1.35" fill="#000"/><circle cx="239.18" cy="319.45" r="1.35" fill="#000"/><circle cx="252.06" cy="327.01" r="1.35" fill="#000"/><circle cx="264.94" cy="332.20" r="1.35" fill="#000"/><circle cx="277.82" cy="338.81" r="1.35" fill="#000"/><circle cx="290.70" cy="344.01" r="1.35" fill="#000"/><circle cx="303.58" cy="347.78" r="1.35" fill="#000"/><circle cx="316.46" cy="351.09" r="1.35" fill="#000"/><circle cx="329.34" cy="353.45" r="1.35" fill="#000"/><circle cx="33.10" cy="422.40" r="1.78" fill="#000"/><circle cx="45.98" cy="422.40" r="1.78" fill="#000"/><circle cx="58.86" cy="422.40" r="1.78" fill="#000"/><circle cx="71.74" cy="422.40" r="1.78" fill="#000"/><circle cx="84.62" cy="422.40" r="1.78" fill="#000"/><circle cx="97.50" cy="421.93" r="1.78" fill="#000"/><circle cx="110.38" cy="421.22" r="1.78" fill="#000"/><circle cx="123.26" cy="419.09" r="1.78" fill="#000"/><circle cx="136.14" cy="412.48" r="1.78" fill="#000"/><circle cx="149.02" cy="398.79" r="1.78" fill="#000"/><circle cx="161.90" cy="377.06" r="1.78" fill="#000"/><circle cx="174.78" cy="346.37" r="1.78" fill="#000"/><circle cx="187.66" cy="322.76" r="1.78" fill="#000"/><circle cx="200.54" cy="307.17" r="1.78" fill="#000"/><circle cx="213.42" cy="304.34" r="1.78" fill="#000"/><circle cx="226.30" cy="309.53" r="1.78" fill="#000"/><circle cx="239.18" cy="320.87" r="1.78" fill="#000"/><circle cx="252.06" cy="328.42" r="1.78" fill="#000"/><circle cx="264.94" cy="333.62" r="1.78" fill="#000"/><circle cx="277.82" cy="339.76" r="1.78" fill="#000"/><circle cx="290.70" cy="344.95" r="1.78" fill="#000"/><circle cx="303.58" cy="348.73" r="1.78" fill="#000"/><circle cx="316.46" cy="352.03" r="1.78" fill="#000"/><circle cx="329.34" cy="354.40" r="1.78" fill="#000"/><path d="M33.10 420.78L34.72 423.70L31.48 423.70Z" fill="#000"/><path d="M45.98 420.78L47.60 423.70L44.36 423.70Z" fill="#000"/><path d="M58.86 420.78L60.48 423.70L57.24 423.70Z" fill="#000"/><path d="M71.74 420.78L73.36 423.70L70.12 423.70Z" fill="#000"/><path d="M84.62 420.78L86.24 423.70L83.00 423.70Z" fill="#000"/><path d="M97.50 420.54L99.12 423.46L95.88 423.46Z" fill="#000"/><path d="M110.38 419.84L112.00 422.75L108.76 422.75Z" fill="#000"/><path d="M123.26 417.95L124.88 420.86L121.64 420.86Z" fill="#000"/><path d="M136.14 411.81L137.76 414.72L134.52 414.72Z" fill="#000"/><path d="M149.02 398.11L150.64 401.03L147.40 401.03Z" fill="#000"/><path d="M161.90 376.86L163.52 379.78L160.28 379.78Z" fill="#000"/><path d="M174.78 346.16L176.40 349.08L173.16 349.08Z" fill="#000"/><path d="M187.66 322.08L189.28 325.00L186.04 325.00Z" fill="#000"/><path d="M200.54 306.97L202.16 309.88L198.92 309.88Z" fill="#000"/><path d="M213.42 303.66L215.04 306.58L211.80 306.58Z" fill="#000"/><path d="M226.30 309.33L227.92 312.24L224.68 312.24Z" fill="#000"/><path d="M239.18 320.66L240.80 323.58L237.56 323.58Z" fill="#000"/><path d="M252.06 327.75L253.68 330.66L250.44 330.66Z" fill="#000"/><path d="M264.94 333.41L266.56 336.33L263.32 336.33Z" fill="#000"/><path d="M277.82 339.08L279.44 342.00L276.20 342.00Z" fill="#000"/><path d="M290.70 344.28L292.32 347.19L289.08 347.19Z" fill="#000"/><path d="M303.58 348.05L305.20 350.97L301.96 350.97Z" fill="#000"/><path d="M316.46 350.89L318.08 353.80L314.84 353.80Z" fill="#000"/><path d="M329.34 353.25L330.96 356.16L327.72 356.16Z" fill="#000"/><path d="M33.10 424.02L34.72 421.10L31.48 421.10Z" fill="#000"/><path d="M45.98 424.02L47.60 421.10L44.36 421.10Z" fill="#000"/><path d="M58.86 424.02L60.48 421.10L57.24 421.10Z" fill="#000"/><path d="M71.74 424.02L73.36 421.10L70.12 421.10Z" fill="#000"/><path d="M84.62 424.02L86.24 421.10L83.00 421.10Z" fill="#000"/><path d="M97.50 423.78L99.12 420.87L95.88 420.87Z" fill="#000"/><path d="M110.38 423.08L112.00 420.16L108.76 420.16Z" fill="#000"/><path d="M123.26 421.66L124.88 418.74L121.64 418.74Z" fill="#000"/><path d="M136.14 415.99L137.76 413.08L134.52 413.08Z" fill="#000"/><path d="M149.02 402.30L150.64 399.38L147.40 399.38Z" fill="#000"/><path d="M161.90 381.52L163.52 378.60L160.28 378.60Z" fill="#000"/><path d="M174.78 350.82L176.40 347.91L173.16 347.91Z" fill="#000"/><path d="M187.66 326.26L189.28 323.35L186.04 323.35Z" fill="#000"/><path d="M200.54 311.62L202.16 308.71L198.92 308.71Z" fill="#000"/><path d="M213.42 308.32L215.04 305.40L211.80 305.40Z" fill="#000"/><path d="M226.30 313.99L227.92 311.07L224.68 311.07Z" fill="#000"/><path d="M239.18 325.32L240.80 322.40L237.56 322.40Z" fill="#000"/><path d="M252.06 332.40L253.68 329.49L250.44 329.49Z" fill="#000"/><path d="M264.94 338.07L266.56 335.15L263.32 335.15Z" fill="#000"/><path d="M277.82 343.27L279.44 340.35L276.20 340.35Z" fill="#000"/><path d="M290.70 348.93L292.32 346.02L289.08 346.02Z" fill="#000"/><path d="M303.58 352.71L305.20 349.79L301.96 349.79Z" fill="#000"/><path d="M316.46 355.07L318.08 352.16L314.84 352.16Z" fill="#000"/><path d="M329.34 357.43L330.96 354.52L327.72 354.52Z" fill="#000"/><circle cx="33.10" cy="422.40" r="1.35" fill="none" stroke="#111" stroke-width="0.6"/><circle cx="45.98" cy="422.40" r="1.35" fill="none" stroke="#111" stroke-width="0.6"/><circle cx="58.86" cy="422.40" r="1.35" fill="none" stroke="#111" stroke-width="0.6"/><circle cx="71.74" cy="422.40" r="1.35" fill="none" stroke="#111" stroke-width="0.6"/><circle cx="84.62" cy="422.40" r="1.35" fill="none" stroke="#111" stroke-width="0.6"/><circle cx="97.50" cy="422.40" r="1.35" fill="none" stroke="#111" stroke-width="0.6"/><circle cx="110.38" cy="421.69" r="1.35" fill="none" stroke="#111" stroke-width="0.6"/><circle cx="123.26" cy="420.51" r="1.35" fill="none" stroke="#111" stroke-width="0.6"/><circle cx="136.14" cy="415.32" r="1.35" fill="none" stroke="#111" stroke-width="0.6"/><circle cx="149.02" cy="401.62" r="1.35" fill="none" stroke="#111" stroke-width="0.6"/><circle cx="161.90" cy="381.31" r="1.35" fill="none" stroke="#111" stroke-width="0.6"/><circle cx="174.78" cy="350.62" r="1.35" fill="none" stroke="#111" stroke-width="0.6"/><circle cx="187.66" cy="325.59" r="1.35" fill="none" stroke="#111" stroke-width="0.6"/><circle cx="200.54" cy="311.42" r="1.35" fill="none" stroke="#111" stroke-width="0.6"/><circle cx="213.42" cy="308.12" r="1.35" fill="none" stroke="#111" stroke-width="0.6"/><circle cx="226.30" cy="313.78" r="1.35" fill="none" stroke="#111" stroke-width="0.6"/><circle cx="239.18" cy="325.12" r="1.35" fill="none" stroke="#111" stroke-width="0.6"/><circle cx="252.06" cy="332.20" r="1.35" fill="none" stroke="#111" stroke-width="0.6"/><circle cx="264.94" cy="337.87" r="1.35" fill="none" stroke="#111" stroke-width="0.6"/><circle cx="277.82" cy="343.06" r="1.35" fill="none" stroke="#111" stroke-width="0.6"/><circle cx="290.70" cy="348.26" r="1.35" fill="none" stroke="#111" stroke-width="0.6"/><circle cx="303.58" cy="352.03" r="1.35" fill="none" stroke="#111" stroke-width="0.6"/><circle cx="316.46" cy="353.92" r="1.35" fill="none" stroke="#111" stroke-width="0.6"/><circle cx="329.34" cy="356.28" r="1.35" fill="none" stroke="#111" stroke-width="0.6"/><circle cx="33.10" cy="422.40" r="1.62" fill="none" stroke="#111" stroke-width="0.7"/><circle cx="45.98" cy="422.40" r="1.62" fill="none" stroke="#111" stroke-width="0.7"/><circle cx="58.86" cy="422.40" r="1.62" fill="none" stroke="#111" stroke-width="0.7"/><circle cx="71.74" cy="422.40" r="1.62" fill="none" stroke="#111" stroke-width="0.7"/><circle cx="84.62" cy="422.40" r="1.62" fill="none" stroke="#111" stroke-width="0.7"/><circle cx="97.50" cy="422.40" r="1.62" fill="none" stroke="#111" stroke-width="0.7"/><circle cx="110.38" cy="421.93" r="1.62" fill="none" stroke="#111" stroke-width="0.7"/><circle cx="123.26" cy="420.98" r="1.62" fill="none" stroke="#111" stroke-width="0.7"/><circle cx="136.14" cy="416.73" r="1.62" fill="none" stroke="#111" stroke-width="0.7"/><circle cx="149.02" cy="403.04" r="1.62" fill="none" stroke="#111" stroke-width="0.7"/><circle cx="161.90" cy="382.73" r="1.62" fill="none" stroke="#111" stroke-width="0.7"/><circle cx="174.78" cy="352.51" r="1.62" fill="none" stroke="#111" stroke-width="0.7"/><circle cx="187.66" cy="328.89" r="1.62" fill="none" stroke="#111" stroke-width="0.7"/><circle cx="200.54" cy="314.73" r="1.62" fill="none" stroke="#111" stroke-width="0.7"/><circle cx="213.42" cy="311.42" r="1.62" fill="none" stroke="#111" stroke-width="0.7"/><circle cx="226.30" cy="319.45" r="1.62" fill="none" stroke="#111" stroke-width="0.7"/><circle cx="239.18" cy="330.31" r="1.62" fill="none" stroke="#111" stroke-width="0.7"/><circle cx="252.06" cy="338.34" r="1.62" fill="none" stroke="#111" stroke-width="0.7"/><circle cx="264.94" cy="343.06" r="1.62" fill="none" stroke="#111" stroke-width="0.7"/><circle cx="277.82" cy="349.20" r="1.62" fill="none" stroke="#111" stroke-width="0.7"/><circle cx="290.70" cy="352.03" r="1.62" fill="none" stroke="#111" stroke-width="0.7"/><circle cx="303.58" cy="355.81" r="1.62" fill="none" stroke="#111" stroke-width="0.7"/><circle cx="316.46" cy="358.17" r="1.62" fill="none" stroke="#111" stroke-width="0.7"/><circle cx="329.34" cy="360.54" r="1.62" fill="none" stroke="#111" stroke-width="0.7"/><path d="M33.10 420.78L34.72 423.70L31.48 423.70Z" fill="none" stroke="#111" stroke-width="0.6"/><path d="M45.98 420.78L47.60 423.70L44.36 423.70Z" fill="none" stroke="#111" stroke-width="0.6"/><path d="M58.86 420.78L60.48 423.70L57.24 423.70Z" fill="none" stroke="#111" stroke-width="0.6"/><path d="M71.74 420.78L73.36 423.70L70.12 423.70Z" fill="none" stroke="#111" stroke-width="0.6"/><path d="M84.62 420.78L86.24 423.70L83.00 423.70Z" fill="none" stroke="#111" stroke-width="0.6"/><path d="M97.50 420.78L99.12 423.70L95.88 423.70Z" fill="none" stroke="#111" stroke-width="0.6"/><path d="M110.38 420.31L112.00 423.22L108.76 423.22Z" fill="none" stroke="#111" stroke-width="0.6"/><path d="M123.26 419.84L124.88 422.75L121.64 422.75Z" fill="none" stroke="#111" stroke-width="0.6"/><path d="M136.14 416.06L137.76 418.97L134.52 418.97Z" fill="none" stroke="#111" stroke-width="0.6"/><path d="M149.02 402.36L150.64 405.28L147.40 405.28Z" fill="none" stroke="#111" stroke-width="0.6"/><path d="M161.90 382.53L163.52 385.44L160.28 385.44Z" fill="none" stroke="#111" stroke-width="0.6"/><path d="M174.78 354.66L176.40 357.58L173.16 357.58Z" fill="none" stroke="#111" stroke-width="0.6"/><path d="M187.66 333.41L189.28 336.33L186.04 336.33Z" fill="none" stroke="#111" stroke-width="0.6"/><path d="M200.54 322.08L202.16 325.00L198.92 325.00Z" fill="none" stroke="#111" stroke-width="0.6"/><path d="M213.42 320.66L215.04 323.58L211.80 323.58Z" fill="none" stroke="#111" stroke-width="0.6"/><path d="M226.30 324.91L227.92 327.83L224.68 327.83Z" fill="none" stroke="#111" stroke-width="0.6"/><path d="M239.18 333.89L240.80 336.80L237.56 336.80Z" fill="none" stroke="#111" stroke-width="0.6"/><path d="M252.06 340.97L253.68 343.89L250.44 343.89Z" fill="none" stroke="#111" stroke-width="0.6"/><path d="M264.94 346.16L266.56 349.08L263.32 349.08Z" fill="none" stroke="#111" stroke-width="0.6"/><path d="M277.82 354.19L279.44 357.11L276.20 357.11Z" fill="none" stroke="#111" stroke-width="0.6"/><path d="M290.70 358.44L292.32 361.36L289.08 361.36Z" fill="none" stroke="#111" stroke-width="0.6"/><path d="M303.58 361.28L305.20 364.19L301.96 364.19Z" fill="none" stroke="#111" stroke-width="0.6"/><path d="M316.46 365.05L318.08 367.97L314.84 367.97Z" fill="none" stroke="#111" stroke-width="0.6"/><path d="M329.34 367.42L330.96 370.33L327.72 370.33Z" fill="none" stroke="#111" stroke-width="0.6"/></g><text x="2.10" y="239.80" font-size="13" font-weight="bold" fill="#000" stroke="#000" stroke-width="0.55">C</text><path d="M37.70 236.70H45.40" stroke="#f00" stroke-width="0.85"/><circle cx="41.50" cy="236.70" r="1.25" fill="#f00"/><text transform="translate(48.90 238.70) scale(0.82 1)" font-size="7.4" fill="#111" stroke="#111" stroke-width="0.15">RN6390</text><path d="M37.70 244.14H45.40" stroke="#222" stroke-width="0.85"/><circle cx="41.50" cy="244.14" r="1.25" fill="#000"/><text transform="translate(48.90 246.14) scale(0.82 1)" font-size="7.4" fill="#111" stroke="#111" stroke-width="0.15">RN6390 + 0.5 µg/mL</text><path d="M37.70 251.58H45.40" stroke="#222" stroke-width="0.85"/><circle cx="41.50" cy="251.58" r="1.65" fill="#000"/><text transform="translate(48.90 253.58) scale(0.82 1)" font-size="7.4" fill="#111" stroke="#111" stroke-width="0.15">RN6390 + 1 µg/mL</text><path d="M37.70 259.02H45.40" stroke="#222" stroke-width="0.85"/><path d="M41.50 257.52L43.00 260.22L40.00 260.22Z" fill="#000"/><text transform="translate(48.90 261.02) scale(0.82 1)" font-size="7.4" fill="#111" stroke="#111" stroke-width="0.15">RN6390 + 2 µg/mL</text><path d="M37.70 266.46H45.40" stroke="#222" stroke-width="0.85"/><path d="M41.50 267.96L43.00 265.26L40.00 265.26Z" fill="#000"/><text transform="translate(48.90 268.46) scale(0.82 1)" font-size="7.4" fill="#111" stroke="#111" stroke-width="0.15">RN6390 + 4 µg/mL</text><path d="M37.70 273.90H45.40" stroke="#222" stroke-width="0.85"/><circle cx="41.50" cy="273.90" r="1.25" fill="none" stroke="#111" stroke-width="0.6"/><text transform="translate(48.90 275.90) scale(0.82 1)" font-size="7.4" fill="#111" stroke="#111" stroke-width="0.15">RN6390 + 8 µg/mL</text><path d="M37.70 281.34H45.40" stroke="#222" stroke-width="0.85"/><circle cx="41.50" cy="281.34" r="1.50" fill="none" stroke="#111" stroke-width="0.7"/><text transform="translate(48.90 283.34) scale(0.82 1)" font-size="7.4" fill="#111" stroke="#111" stroke-width="0.15">RN6390 + 16 µg/mL</text><path d="M37.70 288.78H45.40" stroke="#222" stroke-width="0.85"/><path d="M41.50 287.28L43.00 289.98L40.00 289.98Z" fill="none" stroke="#111" stroke-width="0.6"/><text transform="translate(48.90 290.78) scale(0.82 1)" font-size="7.4" fill="#111" stroke="#111" stroke-width="0.15">RN6390 + 32 µg/mL</text><text transform="translate(9.70 326.00) rotate(-90)" text-anchor="middle" font-size="7" fill="#222">Heat flow (µw)</text><text x="181.50" y="442.40" text-anchor="middle" font-size="6.8" fill="#222">Time (h)</text><clipPath id="cD"><rect x="0" y="0" width="659.0" height="445"/></clipPath><path d="M365.20 234.40V423.40H651.70" fill="none" stroke="#333" stroke-width="0.9"/><path d="M363.20 423.40H365.20" stroke="#333" stroke-width="0.8"/><text x="363.00" y="425.45" text-anchor="end" font-size="5" font-weight="bold" fill="#111" stroke="#111" stroke-width="0.12">0</text><path d="M363.20 399.77H365.20" stroke="#333" stroke-width="0.8"/><text x="363.00" y="401.82" text-anchor="end" font-size="5" font-weight="bold" fill="#111" stroke="#111" stroke-width="0.12">5</text><path d="M363.20 376.15H365.20" stroke="#333" stroke-width="0.8"/><text x="363.00" y="378.20" text-anchor="end" font-size="5" font-weight="bold" fill="#111" stroke="#111" stroke-width="0.12">10</text><path d="M363.20 352.52H365.20" stroke="#333" stroke-width="0.8"/><text x="363.00" y="354.57" text-anchor="end" font-size="5" font-weight="bold" fill="#111" stroke="#111" stroke-width="0.12">15</text><path d="M363.20 328.90H365.20" stroke="#333" stroke-width="0.8"/><text x="363.00" y="330.95" text-anchor="end" font-size="5" font-weight="bold" fill="#111" stroke="#111" stroke-width="0.12">20</text><path d="M363.20 305.27H365.20" stroke="#333" stroke-width="0.8"/><text x="363.00" y="307.32" text-anchor="end" font-size="5" font-weight="bold" fill="#111" stroke="#111" stroke-width="0.12">25</text><path d="M363.20 281.65H365.20" stroke="#333" stroke-width="0.8"/><text x="363.00" y="283.70" text-anchor="end" font-size="5" font-weight="bold" fill="#111" stroke="#111" stroke-width="0.12">30</text><path d="M363.20 258.02H365.20" stroke="#333" stroke-width="0.8"/><text x="363.00" y="260.07" text-anchor="end" font-size="5" font-weight="bold" fill="#111" stroke="#111" stroke-width="0.12">35</text><path d="M363.20 234.40H365.20" stroke="#333" stroke-width="0.8"/><text x="363.00" y="236.45" text-anchor="end" font-size="5" font-weight="bold" fill="#111" stroke="#111" stroke-width="0.12">40</text><path d="M371.90 423.40V425.00" stroke="#333" stroke-width="0.7"/><text x="371.90" y="431.00" text-anchor="middle" font-size="5" font-weight="bold" fill="#111" stroke="#111" stroke-width="0.12">1</text><path d="M384.78 423.40V425.00" stroke="#333" stroke-width="0.7"/><text x="384.78" y="431.00" text-anchor="middle" font-size="5" font-weight="bold" fill="#111" stroke="#111" stroke-width="0.12">2</text><path d="M397.66 423.40V425.00" stroke="#333" stroke-width="0.7"/><text x="397.66" y="431.00" text-anchor="middle" font-size="5" font-weight="bold" fill="#111" stroke="#111" stroke-width="0.12">3</text><path d="M410.54 423.40V425.00" stroke="#333" stroke-width="0.7"/><text x="410.54" y="431.00" text-anchor="middle" font-size="5" font-weight="bold" fill="#111" stroke="#111" stroke-width="0.12">4</text><path d="M423.42 423.40V425.00" stroke="#333" stroke-width="0.7"/><text x="423.42" y="431.00" text-anchor="middle" font-size="5" font-weight="bold" fill="#111" stroke="#111" stroke-width="0.12">5</text><path d="M436.30 423.40V425.00" stroke="#333" stroke-width="0.7"/><text x="436.30" y="431.00" text-anchor="middle" font-size="5" font-weight="bold" fill="#111" stroke="#111" stroke-width="0.12">6</text><path d="M449.18 423.40V425.00" stroke="#333" stroke-width="0.7"/><text x="449.18" y="431.00" text-anchor="middle" font-size="5" font-weight="bold" fill="#111" stroke="#111" stroke-width="0.12">7</text><path d="M462.06 423.40V425.00" stroke="#333" stroke-width="0.7"/><text x="462.06" y="431.00" text-anchor="middle" font-size="5" font-weight="bold" fill="#111" stroke="#111" stroke-width="0.12">8</text><path d="M474.94 423.40V425.00" stroke="#333" stroke-width="0.7"/><text x="474.94" y="431.00" text-anchor="middle" font-size="5" font-weight="bold" fill="#111" stroke="#111" stroke-width="0.12">9</text><path d="M487.82 423.40V425.00" stroke="#333" stroke-width="0.7"/><text x="487.82" y="431.00" text-anchor="middle" font-size="5" font-weight="bold" fill="#111" stroke="#111" stroke-width="0.12">10</text><path d="M500.70 423.40V425.00" stroke="#333" stroke-width="0.7"/><text x="500.70" y="431.00" text-anchor="middle" font-size="5" font-weight="bold" fill="#111" stroke="#111" stroke-width="0.12">11</text><path d="M513.58 423.40V425.00" stroke="#333" stroke-width="0.7"/><text x="513.58" y="431.00" text-anchor="middle" font-size="5" font-weight="bold" fill="#111" stroke="#111" stroke-width="0.12">12</text><path d="M526.46 423.40V425.00" stroke="#333" stroke-width="0.7"/><text x="526.46" y="431.00" text-anchor="middle" font-size="5" font-weight="bold" fill="#111" stroke="#111" stroke-width="0.12">13</text><path d="M539.34 423.40V425.00" stroke="#333" stroke-width="0.7"/><text x="539.34" y="431.00" text-anchor="middle" font-size="5" font-weight="bold" fill="#111" stroke="#111" stroke-width="0.12">14</text><path d="M552.22 423.40V425.00" stroke="#333" stroke-width="0.7"/><text x="552.22" y="431.00" text-anchor="middle" font-size="5" font-weight="bold" fill="#111" stroke="#111" stroke-width="0.12">15</text><path d="M565.10 423.40V425.00" stroke="#333" stroke-width="0.7"/><text x="565.10" y="431.00" text-anchor="middle" font-size="5" font-weight="bold" fill="#111" stroke="#111" stroke-width="0.12">16</text><path d="M577.98 423.40V425.00" stroke="#333" stroke-width="0.7"/><text x="577.98" y="431.00" text-anchor="middle" font-size="5" font-weight="bold" fill="#111" stroke="#111" stroke-width="0.12">17</text><path d="M590.86 423.40V425.00" stroke="#333" stroke-width="0.7"/><text x="590.86" y="431.00" text-anchor="middle" font-size="5" font-weight="bold" fill="#111" stroke="#111" stroke-width="0.12">18</text><path d="M603.74 423.40V425.00" stroke="#333" stroke-width="0.7"/><text x="603.74" y="431.00" text-anchor="middle" font-size="5" font-weight="bold" fill="#111" stroke="#111" stroke-width="0.12">19</text><path d="M616.62 423.40V425.00" stroke="#333" stroke-width="0.7"/><text x="616.62" y="431.00" text-anchor="middle" font-size="5" font-weight="bold" fill="#111" stroke="#111" stroke-width="0.12">20</text><path d="M629.50 423.40V425.00" stroke="#333" stroke-width="0.7"/><text x="629.50" y="431.00" text-anchor="middle" font-size="5" font-weight="bold" fill="#111" stroke="#111" stroke-width="0.12">21</text><path d="M642.38 423.40V425.00" stroke="#333" stroke-width="0.7"/><text x="642.38" y="431.00" text-anchor="middle" font-size="5" font-weight="bold" fill="#111" stroke="#111" stroke-width="0.12">22</text><text x="655.26" y="431.00" text-anchor="middle" font-size="5" font-weight="bold" fill="#111" stroke="#111" stroke-width="0.12">23</text><text x="668.14" y="431.00" text-anchor="middle" font-size="5" font-weight="bold" fill="#111" stroke="#111" stroke-width="0.12">24</text><g clip-path="url(#cD)"><path d="M436.30 421.04V423.40" stroke="#262626" stroke-width="0.8" fill="none"/><path d="M434.90 421.65H437.70M434.90 422.95H437.70" stroke="#d42020" stroke-width="0.75" fill="none"/><path d="M434.90 421.04H437.70M434.90 423.14H437.70" stroke="#111" stroke-width="0.75" fill="none"/><path d="M434.90 421.74H437.70M434.90 423.27H437.70" stroke="#111" stroke-width="0.75" fill="none"/><path d="M434.90 421.97H437.70M434.90 423.17H437.70" stroke="#111" stroke-width="0.75" fill="none"/><path d="M434.90 421.66H437.70M434.90 423.40H437.70" stroke="#111" stroke-width="0.75" fill="none"/><path d="M449.18 419.62V423.40" stroke="#262626" stroke-width="0.8" fill="none"/><path d="M447.78 419.62H450.58M447.78 422.54H450.58" stroke="#d42020" stroke-width="0.75" fill="none"/><path d="M447.78 421.11H450.58M447.78 423.22H450.58" stroke="#111" stroke-width="0.75" fill="none"/><path d="M447.78 421.20H450.58M447.78 423.16H450.58" stroke="#111" stroke-width="0.75" fill="none"/><path d="M447.78 421.44H450.58M447.78 422.99H450.58" stroke="#111" stroke-width="0.75" fill="none"/><path d="M447.78 421.31H450.58M447.78 423.40H450.58" stroke="#111" stroke-width="0.75" fill="none"/><path d="M462.06 416.31V423.40" stroke="#262626" stroke-width="0.8" fill="none"/><path d="M460.66 416.31H463.46M460.66 421.48H463.46" stroke="#d42020" stroke-width="0.75" fill="none"/><path d="M460.66 418.69H463.46M460.66 422.91H463.46" stroke="#111" stroke-width="0.75" fill="none"/><path d="M460.66 417.98H463.46M460.66 421.60H463.46" stroke="#111" stroke-width="0.75" fill="none"/><path d="M460.66 418.45H463.46M460.66 422.38H463.46" stroke="#111" stroke-width="0.75" fill="none"/><path d="M460.66 417.13H463.46M460.66 423.01H463.46" stroke="#111" stroke-width="0.75" fill="none"/><path d="M460.66 417.37H463.46M460.66 423.40H463.46" stroke="#111" stroke-width="0.75" fill="none"/><path d="M474.94 405.44V421.98" stroke="#262626" stroke-width="0.8" fill="none"/><path d="M473.54 405.44H476.34M473.54 415.71H476.34" stroke="#d42020" stroke-width="0.75" fill="none"/><path d="M473.54 408.81H476.34M473.54 418.44H476.34" stroke="#111" stroke-width="0.75" fill="none"/><path d="M473.54 406.94H476.34M473.54 416.92H476.34" stroke="#111" stroke-width="0.75" fill="none"/><path d="M473.54 407.38H476.34M473.54 420.06H476.34" stroke="#111" stroke-width="0.75" fill="none"/><path d="M473.54 408.05H476.34M473.54 419.68H476.34" stroke="#111" stroke-width="0.75" fill="none"/><path d="M473.54 407.91H476.34M473.54 421.98H476.34" stroke="#111" stroke-width="0.75" fill="none"/><path d="M487.82 385.13V415.84" stroke="#262626" stroke-width="0.8" fill="none"/><path d="M486.42 385.13H489.22M486.42 405.96H489.22" stroke="#d42020" stroke-width="0.75" fill="none"/><path d="M486.42 388.72H489.22M486.42 411.91H489.22" stroke="#111" stroke-width="0.75" fill="none"/><path d="M486.42 388.87H489.22M486.42 407.59H489.22" stroke="#111" stroke-width="0.75" fill="none"/><path d="M486.42 393.73H489.22M486.42 409.67H489.22" stroke="#111" stroke-width="0.75" fill="none"/><path d="M486.42 393.68H489.22M486.42 413.31H489.22" stroke="#111" stroke-width="0.75" fill="none"/><path d="M486.42 388.63H489.22M486.42 415.84H489.22" stroke="#111" stroke-width="0.75" fill="none"/><path d="M500.70 350.16V399.77" stroke="#262626" stroke-width="0.8" fill="none"/><path d="M499.30 350.16H502.10M499.30 378.77H502.10" stroke="#d42020" stroke-width="0.75" fill="none"/><path d="M499.30 359.63H502.10M499.30 389.88H502.10" stroke="#111" stroke-width="0.75" fill="none"/><path d="M499.30 357.70H502.10M499.30 392.37H502.10" stroke="#111" stroke-width="0.75" fill="none"/><path d="M499.30 366.96H502.10M499.30 387.88H502.10" stroke="#111" stroke-width="0.75" fill="none"/><path d="M499.30 356.74H502.10M499.30 389.00H502.10" stroke="#111" stroke-width="0.75" fill="none"/><path d="M499.30 360.16H502.10M499.30 394.57H502.10" stroke="#111" stroke-width="0.75" fill="none"/><path d="M499.30 368.42H502.10M499.30 399.77H502.10" stroke="#111" stroke-width="0.75" fill="none"/><path d="M513.58 305.27V348.75" stroke="#262626" stroke-width="0.8" fill="none"/><path d="M512.18 305.27H514.98M512.18 339.76H514.98" stroke="#d42020" stroke-width="0.75" fill="none"/><path d="M512.18 313.18H514.98M512.18 346.71H514.98" stroke="#111" stroke-width="0.75" fill="none"/><path d="M512.18 310.68H514.98M512.18 344.49H514.98" stroke="#111" stroke-width="0.75" fill="none"/><path d="M512.18 323.06H514.98M512.18 346.23H514.98" stroke="#111" stroke-width="0.75" fill="none"/><path d="M512.18 317.05H514.98M512.18 347.56H514.98" stroke="#111" stroke-width="0.75" fill="none"/><path d="M512.18 322.15H514.98M512.18 348.75H514.98" stroke="#111" stroke-width="0.75" fill="none"/><path d="M526.46 261.33V342.13" stroke="#262626" stroke-width="0.8" fill="none"/><path d="M525.06 261.33H527.86M525.06 314.28H527.86" stroke="#d42020" stroke-width="0.75" fill="none"/><path d="M525.06 274.31H527.86M525.06 322.12H527.86" stroke="#111" stroke-width="0.75" fill="none"/><path d="M525.06 266.74H527.86M525.06 320.85H527.86" stroke="#111" stroke-width="0.75" fill="none"/><path d="M525.06 284.29H527.86M525.06 327.79H527.86" stroke="#111" stroke-width="0.75" fill="none"/><path d="M525.06 269.13H527.86M525.06 342.13H527.86" stroke="#111" stroke-width="0.75" fill="none"/><path d="M539.34 245.74V315.20" stroke="#262626" stroke-width="0.8" fill="none"/><path d="M537.94 266.15H540.74M537.94 291.51H540.74" stroke="#d42020" stroke-width="0.75" fill="none"/><path d="M537.94 245.74H540.74M537.94 296.68H540.74" stroke="#111" stroke-width="0.75" fill="none"/><path d="M537.94 264.10H540.74M537.94 299.26H540.74" stroke="#111" stroke-width="0.75" fill="none"/><path d="M537.94 265.50H540.74M537.94 300.23H540.74" stroke="#111" stroke-width="0.75" fill="none"/><path d="M537.94 266.24H540.74M537.94 315.20H540.74" stroke="#111" stroke-width="0.75" fill="none"/><path d="M552.22 264.64V301.97" stroke="#262626" stroke-width="0.8" fill="none"/><path d="M550.82 276.14H553.62M550.82 289.12H553.62" stroke="#d42020" stroke-width="0.75" fill="none"/><path d="M550.82 264.64H553.62M550.82 294.26H553.62" stroke="#111" stroke-width="0.75" fill="none"/><path d="M550.82 267.89H553.62M550.82 294.41H553.62" stroke="#111" stroke-width="0.75" fill="none"/><path d="M550.82 268.64H553.62M550.82 292.45H553.62" stroke="#111" stroke-width="0.75" fill="none"/><path d="M550.82 275.27H553.62M550.82 298.97H553.62" stroke="#111" stroke-width="0.75" fill="none"/><path d="M550.82 270.09H553.62M550.82 301.97H553.62" stroke="#111" stroke-width="0.75" fill="none"/><path d="M565.10 273.62V311.89" stroke="#262626" stroke-width="0.8" fill="none"/><path d="M563.70 284.87H566.50M563.70 299.03H566.50" stroke="#d42020" stroke-width="0.75" fill="none"/><path d="M563.70 273.62H566.50M563.70 304.02H566.50" stroke="#111" stroke-width="0.75" fill="none"/><path d="M563.70 277.91H566.50M563.70 304.85H566.50" stroke="#111" stroke-width="0.75" fill="none"/><path d="M563.70 275.60H566.50M563.70 301.48H566.50" stroke="#111" stroke-width="0.75" fill="none"/><path d="M563.70 281.62H566.50M563.70 301.26H566.50" stroke="#111" stroke-width="0.75" fill="none"/><path d="M563.70 286.35H566.50M563.70 311.89H566.50" stroke="#111" stroke-width="0.75" fill="none"/><path d="M577.98 283.54V319.92" stroke="#262626" stroke-width="0.8" fill="none"/><path d="M576.58 294.59H579.38M576.58 308.76H579.38" stroke="#d42020" stroke-width="0.75" fill="none"/><path d="M576.58 283.54H579.38M576.58 315.85H579.38" stroke="#111" stroke-width="0.75" fill="none"/><path d="M576.58 294.77H579.38M576.58 311.11H579.38" stroke="#111" stroke-width="0.75" fill="none"/><path d="M576.58 294.17H579.38M576.58 315.25H579.38" stroke="#111" stroke-width="0.75" fill="none"/><path d="M576.58 287.53H579.38M576.58 318.00H579.38" stroke="#111" stroke-width="0.75" fill="none"/><path d="M576.58 292.78H579.38M576.58 315.07H579.38" stroke="#111" stroke-width="0.75" fill="none"/><path d="M576.58 292.33H579.38M576.58 319.92H579.38" stroke="#111" stroke-width="0.75" fill="none"/><path d="M590.86 292.99V334.10" stroke="#262626" stroke-width="0.8" fill="none"/><path d="M589.46 303.31H592.26M589.46 324.77H592.26" stroke="#d42020" stroke-width="0.75" fill="none"/><path d="M589.46 292.99H592.26M589.46 321.61H592.26" stroke="#111" stroke-width="0.75" fill="none"/><path d="M589.46 299.72H592.26M589.46 326.61H592.26" stroke="#111" stroke-width="0.75" fill="none"/><path d="M589.46 299.97H592.26M589.46 328.73H592.26" stroke="#111" stroke-width="0.75" fill="none"/><path d="M589.46 306.79H592.26M589.46 324.80H592.26" stroke="#111" stroke-width="0.75" fill="none"/><path d="M589.46 307.43H592.26M589.46 334.10H592.26" stroke="#111" stroke-width="0.75" fill="none"/><path d="M603.74 300.55V341.19" stroke="#262626" stroke-width="0.8" fill="none"/><path d="M602.34 314.03H605.14M602.34 323.07H605.14" stroke="#d42020" stroke-width="0.75" fill="none"/><path d="M602.34 300.55H605.14M602.34 334.66H605.14" stroke="#111" stroke-width="0.75" fill="none"/><path d="M602.34 304.44H605.14M602.34 336.46H605.14" stroke="#111" stroke-width="0.75" fill="none"/><path d="M602.34 308.67H605.14M602.34 333.01H605.14" stroke="#111" stroke-width="0.75" fill="none"/><path d="M602.34 309.70H605.14M602.34 331.81H605.14" stroke="#111" stroke-width="0.75" fill="none"/><path d="M602.34 311.67H605.14M602.34 341.19H605.14" stroke="#111" stroke-width="0.75" fill="none"/><path d="M616.62 308.11V345.44" stroke="#262626" stroke-width="0.8" fill="none"/><path d="M615.22 308.11H618.02M615.22 334.47H618.02" stroke="#d42020" stroke-width="0.75" fill="none"/><path d="M615.22 317.81H618.02M615.22 341.93H618.02" stroke="#111" stroke-width="0.75" fill="none"/><path d="M615.22 317.83H618.02M615.22 333.70H618.02" stroke="#111" stroke-width="0.75" fill="none"/><path d="M615.22 318.50H618.02M615.22 342.71H618.02" stroke="#111" stroke-width="0.75" fill="none"/><path d="M615.22 322.52H618.02M615.22 337.17H618.02" stroke="#111" stroke-width="0.75" fill="none"/><path d="M615.22 311.20H618.02M615.22 345.44H618.02" stroke="#111" stroke-width="0.75" fill="none"/><path d="M629.50 315.20V348.27" stroke="#262626" stroke-width="0.8" fill="none"/><path d="M628.10 315.20H630.90M628.10 336.12H630.90" stroke="#d42020" stroke-width="0.75" fill="none"/><path d="M628.10 317.85H630.90M628.10 344.52H630.90" stroke="#111" stroke-width="0.75" fill="none"/><path d="M628.10 321.99H630.90M628.10 338.34H630.90" stroke="#111" stroke-width="0.75" fill="none"/><path d="M628.10 323.80H630.90M628.10 345.76H630.90" stroke="#111" stroke-width="0.75" fill="none"/><path d="M628.10 323.25H630.90M628.10 342.48H630.90" stroke="#111" stroke-width="0.75" fill="none"/><path d="M628.10 320.08H630.90M628.10 348.27H630.90" stroke="#111" stroke-width="0.75" fill="none"/><path d="M642.38 322.28V352.05" stroke="#262626" stroke-width="0.8" fill="none"/><path d="M640.98 322.28H643.78M640.98 343.35H643.78" stroke="#d42020" stroke-width="0.75" fill="none"/><path d="M640.98 328.99H643.78M640.98 346.70H643.78" stroke="#111" stroke-width="0.75" fill="none"/><path d="M640.98 325.35H643.78M640.98 349.51H643.78" stroke="#111" stroke-width="0.75" fill="none"/><path d="M640.98 329.70H643.78M640.98 350.43H643.78" stroke="#111" stroke-width="0.75" fill="none"/><path d="M640.98 329.36H643.78M640.98 352.05H643.78" stroke="#111" stroke-width="0.75" fill="none"/><path d="M655.26 327.01V353.94" stroke="#262626" stroke-width="0.8" fill="none"/><path d="M653.86 327.01H656.66M653.86 341.57H656.66" stroke="#d42020" stroke-width="0.75" fill="none"/><path d="M653.86 333.24H656.66M653.86 348.34H656.66" stroke="#111" stroke-width="0.75" fill="none"/><path d="M653.86 332.27H656.66M653.86 348.37H656.66" stroke="#111" stroke-width="0.75" fill="none"/><path d="M653.86 336.01H656.66M653.86 351.29H656.66" stroke="#111" stroke-width="0.75" fill="none"/><path d="M653.86 329.40H656.66M653.86 349.47H656.66" stroke="#111" stroke-width="0.75" fill="none"/><path d="M653.86 330.82H656.66M653.86 353.94H656.66" stroke="#111" stroke-width="0.75" fill="none"/><path d="M668.14 329.84V356.31" stroke="#262626" stroke-width="0.8" fill="none"/><path d="M666.74 329.84H669.54M666.74 346.79H669.54" stroke="#d42020" stroke-width="0.75" fill="none"/><path d="M666.74 332.65H669.54M666.74 352.86H669.54" stroke="#111" stroke-width="0.75" fill="none"/><path d="M666.74 335.35H669.54M666.74 348.91H669.54" stroke="#111" stroke-width="0.75" fill="none"/><path d="M666.74 337.42H669.54M666.74 350.16H669.54" stroke="#111" stroke-width="0.75" fill="none"/><path d="M666.74 332.17H669.54M666.74 348.87H669.54" stroke="#111" stroke-width="0.75" fill="none"/><path d="M666.74 341.45H669.54M666.74 351.48H669.54" stroke="#111" stroke-width="0.75" fill="none"/><path d="M666.74 339.96H669.54M666.74 356.31H669.54" stroke="#111" stroke-width="0.75" fill="none"/><polyline points="423.42,423.40 436.30,422.45 449.18,421.98 462.06,419.15 474.94,410.17 487.82,395.52 500.70,369.53 513.58,332.21 526.46,296.30 539.34,282.12 552.22,284.01 565.10,291.10 577.98,302.91 590.86,310.94 603.74,317.56 616.62,323.70 629.50,330.79 642.38,334.57 655.26,337.88 668.14,340.24" fill="none" stroke="#c81818" stroke-width="0.7"/><polyline points="371.90,423.40 384.78,423.40 397.66,423.40 410.54,423.40 423.42,423.40 436.30,422.45 449.18,421.98 462.06,420.09 474.94,412.06 487.82,398.83 500.70,373.79 513.58,333.62 526.46,301.50 539.34,279.29 552.22,281.18 565.10,288.74 577.98,301.02 590.86,310.00 603.74,317.09 616.62,324.17 629.50,331.26 642.38,335.51 655.26,340.24 668.14,343.07" fill="none" stroke="#000" stroke-width="0.7"/><polyline points="423.42,423.40 436.30,422.45 449.18,421.98 462.06,420.56 474.94,413.00 487.82,400.25 500.70,375.68 513.58,335.99 526.46,303.86 539.34,280.23 552.22,282.59 565.10,289.68 577.98,301.97 590.86,310.47 603.74,317.56 616.62,324.65 629.50,331.74 642.38,335.99 655.26,340.71 668.14,343.55" fill="none" stroke="#000" stroke-width="0.7"/><polyline points="423.42,423.40 436.30,422.69 449.18,422.22 462.06,421.04 474.94,413.95 487.82,401.66 500.70,377.09 513.58,338.35 526.46,305.75 539.34,281.18 552.22,283.54 565.10,290.15 577.98,302.91 590.86,310.94 603.74,318.03 616.62,325.12 629.50,332.21 642.38,336.46 655.26,341.19 668.14,344.02" fill="none" stroke="#000" stroke-width="0.7"/><polyline points="423.42,423.40 436.30,422.69 449.18,422.45 462.06,421.51 474.94,415.37 487.82,403.08 500.70,378.98 513.58,340.71 526.46,307.64 539.34,282.12 552.22,284.96 565.10,291.10 577.98,303.86 590.86,311.42 603.74,318.50 616.62,325.59 629.50,332.68 642.38,336.93 655.26,341.66 668.14,344.49" fill="none" stroke="#000" stroke-width="0.7"/><polyline points="423.42,423.40 436.30,422.93 449.18,422.45 462.06,421.75 474.94,416.78 487.82,404.97 500.70,380.88 513.58,343.07 526.46,309.53 539.34,283.07 552.22,286.38 565.10,293.94 577.98,306.22 590.86,314.72 603.74,321.81 616.62,328.43 629.50,335.51 642.38,339.77 655.26,344.02 668.14,346.86" fill="none" stroke="#000" stroke-width="0.7"/><polyline points="423.42,423.40 436.30,422.93 449.18,422.69 462.06,421.98 474.94,417.73 487.82,406.39 500.70,382.76 513.58,345.91 526.46,310.94 539.34,287.32 552.22,287.32 565.10,295.82 577.98,309.06 590.86,317.56 603.74,323.70 616.62,330.79 629.50,337.88 642.38,343.07 655.26,345.91 668.14,348.75" fill="none" stroke="#000" stroke-width="0.7"/><polyline points="423.42,423.40 436.30,423.16 449.18,422.93 462.06,422.45 474.94,419.15 487.82,407.81 500.70,384.18 513.58,348.75 526.46,312.36 539.34,292.99 552.22,291.10 565.10,297.24 577.98,311.89 590.86,320.39 603.74,325.59 616.62,332.68 629.50,339.77 642.38,345.91 655.26,347.80 668.14,350.63" fill="none" stroke="#000" stroke-width="0.7"/><circle cx="371.90" cy="423.40" r="1.35" fill="#e01010"/><circle cx="384.78" cy="423.40" r="1.35" fill="#e01010"/><circle cx="397.66" cy="423.40" r="1.35" fill="#e01010"/><circle cx="410.54" cy="423.40" r="1.35" fill="#e01010"/><circle cx="423.42" cy="423.40" r="1.35" fill="#e01010"/><circle cx="436.30" cy="422.45" r="1.35" fill="#e01010"/><circle cx="449.18" cy="421.98" r="1.35" fill="#e01010"/><circle cx="462.06" cy="419.15" r="1.35" fill="#e01010"/><circle cx="474.94" cy="410.17" r="1.35" fill="#e01010"/><circle cx="487.82" cy="395.52" r="1.35" fill="#e01010"/><circle cx="500.70" cy="369.53" r="1.35" fill="#e01010"/><circle cx="513.58" cy="332.21" r="1.35" fill="#e01010"/><circle cx="526.46" cy="296.30" r="1.35" fill="#e01010"/><circle cx="539.34" cy="282.12" r="1.35" fill="#e01010"/><circle cx="552.22" cy="284.01" r="1.35" fill="#e01010"/><circle cx="565.10" cy="291.10" r="1.35" fill="#e01010"/><circle cx="577.98" cy="302.91" r="1.35" fill="#e01010"/><circle cx="590.86" cy="310.94" r="1.35" fill="#e01010"/><circle cx="603.74" cy="317.56" r="1.35" fill="#e01010"/><circle cx="616.62" cy="323.70" r="1.35" fill="#e01010"/><circle cx="629.50" cy="330.79" r="1.35" fill="#e01010"/><circle cx="642.38" cy="334.57" r="1.35" fill="#e01010"/><circle cx="655.26" cy="337.88" r="1.35" fill="#e01010"/><circle cx="668.14" cy="340.24" r="1.35" fill="#e01010"/><circle cx="371.90" cy="423.40" r="1.35" fill="#000"/><circle cx="384.78" cy="423.40" r="1.35" fill="#000"/><circle cx="397.66" cy="423.40" r="1.35" fill="#000"/><circle cx="410.54" cy="423.40" r="1.35" fill="#000"/><circle cx="423.42" cy="423.40" r="1.35" fill="#000"/><circle cx="436.30" cy="422.45" r="1.35" fill="#000"/><circle cx="449.18" cy="421.98" r="1.35" fill="#000"/><circle cx="462.06" cy="420.09" r="1.35" fill="#000"/><circle cx="474.94" cy="412.06" r="1.35" fill="#000"/><circle cx="487.82" cy="398.83" r="1.35" fill="#000"/><circle cx="500.70" cy="373.79" r="1.35" fill="#000"/><circle cx="513.58" cy="333.62" r="1.35" fill="#000"/><circle cx="526.46" cy="301.50" r="1.35" fill="#000"/><circle cx="539.34" cy="279.29" r="1.35" fill="#000"/><circle cx="552.22" cy="281.18" r="1.35" fill="#000"/><circle cx="565.10" cy="288.74" r="1.35" fill="#000"/><circle cx="577.98" cy="301.02" r="1.35" fill="#000"/><circle cx="590.86" cy="310.00" r="1.35" fill="#000"/><circle cx="603.74" cy="317.09" r="1.35" fill="#000"/><circle cx="616.62" cy="324.17" r="1.35" fill="#000"/><circle cx="629.50" cy="331.26" r="1.35" fill="#000"/><circle cx="642.38" cy="335.51" r="1.35" fill="#000"/><circle cx="655.26" cy="340.24" r="1.35" fill="#000"/><circle cx="668.14" cy="343.07" r="1.35" fill="#000"/><circle cx="371.90" cy="423.40" r="1.78" fill="#000"/><circle cx="384.78" cy="423.40" r="1.78" fill="#000"/><circle cx="397.66" cy="423.40" r="1.78" fill="#000"/><circle cx="410.54" cy="423.40" r="1.78" fill="#000"/><circle cx="423.42" cy="423.40" r="1.78" fill="#000"/><circle cx="436.30" cy="422.45" r="1.78" fill="#000"/><circle cx="449.18" cy="421.98" r="1.78" fill="#000"/><circle cx="462.06" cy="420.56" r="1.78" fill="#000"/><circle cx="474.94" cy="413.00" r="1.78" fill="#000"/><circle cx="487.82" cy="400.25" r="1.78" fill="#000"/><circle cx="500.70" cy="375.68" r="1.78" fill="#000"/><circle cx="513.58" cy="335.99" r="1.78" fill="#000"/><circle cx="526.46" cy="303.86" r="1.78" fill="#000"/><circle cx="539.34" cy="280.23" r="1.78" fill="#000"/><circle cx="552.22" cy="282.59" r="1.78" fill="#000"/><circle cx="565.10" cy="289.68" r="1.78" fill="#000"/><circle cx="577.98" cy="301.97" r="1.78" fill="#000"/><circle cx="590.86" cy="310.47" r="1.78" fill="#000"/><circle cx="603.74" cy="317.56" r="1.78" fill="#000"/><circle cx="616.62" cy="324.65" r="1.78" fill="#000"/><circle cx="629.50" cy="331.74" r="1.78" fill="#000"/><circle cx="642.38" cy="335.99" r="1.78" fill="#000"/><circle cx="655.26" cy="340.71" r="1.78" fill="#000"/><circle cx="668.14" cy="343.55" r="1.78" fill="#000"/><path d="M371.90 421.78L373.52 424.70L370.28 424.70Z" fill="#000"/><path d="M384.78 421.78L386.40 424.70L383.16 424.70Z" fill="#000"/><path d="M397.66 421.78L399.28 424.70L396.04 424.70Z" fill="#000"/><path d="M410.54 421.78L412.16 424.70L408.92 424.70Z" fill="#000"/><path d="M423.42 421.78L425.04 424.70L421.80 424.70Z" fill="#000"/><path d="M436.30 421.07L437.92 423.99L434.68 423.99Z" fill="#000"/><path d="M449.18 420.60L450.80 423.51L447.56 423.51Z" fill="#000"/><path d="M462.06 419.42L463.68 422.33L460.44 422.33Z" fill="#000"/><path d="M474.94 412.33L476.56 415.25L473.32 415.25Z" fill="#000"/><path d="M487.82 400.04L489.44 402.96L486.20 402.96Z" fill="#000"/><path d="M500.70 375.47L502.32 378.39L499.08 378.39Z" fill="#000"/><path d="M513.58 336.73L515.20 339.65L511.96 339.65Z" fill="#000"/><path d="M526.46 304.13L528.08 307.04L524.84 307.04Z" fill="#000"/><path d="M539.34 279.56L540.96 282.47L537.72 282.47Z" fill="#000"/><path d="M552.22 281.92L553.84 284.84L550.60 284.84Z" fill="#000"/><path d="M565.10 288.53L566.72 291.45L563.48 291.45Z" fill="#000"/><path d="M577.98 301.29L579.60 304.21L576.36 304.21Z" fill="#000"/><path d="M590.86 309.32L592.48 312.24L589.24 312.24Z" fill="#000"/><path d="M603.74 316.41L605.36 319.33L602.12 319.33Z" fill="#000"/><path d="M616.62 323.50L618.24 326.42L615.00 326.42Z" fill="#000"/><path d="M629.50 330.59L631.12 333.50L627.88 333.50Z" fill="#000"/><path d="M642.38 334.84L644.00 337.76L640.76 337.76Z" fill="#000"/><path d="M655.26 339.56L656.88 342.48L653.64 342.48Z" fill="#000"/><path d="M668.14 342.40L669.76 345.32L666.52 345.32Z" fill="#000"/><path d="M371.90 425.02L373.52 422.10L370.28 422.10Z" fill="#000"/><path d="M384.78 425.02L386.40 422.10L383.16 422.10Z" fill="#000"/><path d="M397.66 425.02L399.28 422.10L396.04 422.10Z" fill="#000"/><path d="M410.54 425.02L412.16 422.10L408.92 422.10Z" fill="#000"/><path d="M423.42 425.02L425.04 422.10L421.80 422.10Z" fill="#000"/><path d="M436.30 424.31L437.92 421.40L434.68 421.40Z" fill="#000"/><path d="M449.18 424.07L450.80 421.16L447.56 421.16Z" fill="#000"/><path d="M462.06 423.13L463.68 420.21L460.44 420.21Z" fill="#000"/><path d="M474.94 416.99L476.56 414.07L473.32 414.07Z" fill="#000"/><path d="M487.82 404.70L489.44 401.79L486.20 401.79Z" fill="#000"/><path d="M500.70 380.60L502.32 377.69L499.08 377.69Z" fill="#000"/><path d="M513.58 342.33L515.20 339.42L511.96 339.42Z" fill="#000"/><path d="M526.46 309.26L528.08 306.34L524.84 306.34Z" fill="#000"/><path d="M539.34 283.74L540.96 280.83L537.72 280.83Z" fill="#000"/><path d="M552.22 286.58L553.84 283.66L550.60 283.66Z" fill="#000"/><path d="M565.10 292.72L566.72 289.80L563.48 289.80Z" fill="#000"/><path d="M577.98 305.48L579.60 302.56L576.36 302.56Z" fill="#000"/><path d="M590.86 313.04L592.48 310.12L589.24 310.12Z" fill="#000"/><path d="M603.74 320.12L605.36 317.21L602.12 317.21Z" fill="#000"/><path d="M616.62 327.21L618.24 324.30L615.00 324.30Z" fill="#000"/><path d="M629.50 334.30L631.12 331.38L627.88 331.38Z" fill="#000"/><path d="M642.38 338.55L644.00 335.64L640.76 335.64Z" fill="#000"/><path d="M655.26 343.28L656.88 340.36L653.64 340.36Z" fill="#000"/><path d="M668.14 346.11L669.76 343.20L666.52 343.20Z" fill="#000"/><circle cx="371.90" cy="423.40" r="1.35" fill="none" stroke="#111" stroke-width="0.6"/><circle cx="384.78" cy="423.40" r="1.35" fill="none" stroke="#111" stroke-width="0.6"/><circle cx="397.66" cy="423.40" r="1.35" fill="none" stroke="#111" stroke-width="0.6"/><circle cx="410.54" cy="423.40" r="1.35" fill="none" stroke="#111" stroke-width="0.6"/><circle cx="423.42" cy="423.40" r="1.35" fill="none" stroke="#111" stroke-width="0.6"/><circle cx="436.30" cy="422.93" r="1.35" fill="none" stroke="#111" stroke-width="0.6"/><circle cx="449.18" cy="422.45" r="1.35" fill="none" stroke="#111" stroke-width="0.6"/><circle cx="462.06" cy="421.75" r="1.35" fill="none" stroke="#111" stroke-width="0.6"/><circle cx="474.94" cy="416.78" r="1.35" fill="none" stroke="#111" stroke-width="0.6"/><circle cx="487.82" cy="404.97" r="1.35" fill="none" stroke="#111" stroke-width="0.6"/><circle cx="500.70" cy="380.88" r="1.35" fill="none" stroke="#111" stroke-width="0.6"/><circle cx="513.58" cy="343.07" r="1.35" fill="none" stroke="#111" stroke-width="0.6"/><circle cx="526.46" cy="309.53" r="1.35" fill="none" stroke="#111" stroke-width="0.6"/><circle cx="539.34" cy="283.07" r="1.35" fill="none" stroke="#111" stroke-width="0.6"/><circle cx="552.22" cy="286.38" r="1.35" fill="none" stroke="#111" stroke-width="0.6"/><circle cx="565.10" cy="293.94" r="1.35" fill="none" stroke="#111" stroke-width="0.6"/><circle cx="577.98" cy="306.22" r="1.35" fill="none" stroke="#111" stroke-width="0.6"/><circle cx="590.86" cy="314.72" r="1.35" fill="none" stroke="#111" stroke-width="0.6"/><circle cx="603.74" cy="321.81" r="1.35" fill="none" stroke="#111" stroke-width="0.6"/><circle cx="616.62" cy="328.43" r="1.35" fill="none" stroke="#111" stroke-width="0.6"/><circle cx="629.50" cy="335.51" r="1.35" fill="none" stroke="#111" stroke-width="0.6"/><circle cx="642.38" cy="339.77" r="1.35" fill="none" stroke="#111" stroke-width="0.6"/><circle cx="655.26" cy="344.02" r="1.35" fill="none" stroke="#111" stroke-width="0.6"/><circle cx="668.14" cy="346.86" r="1.35" fill="none" stroke="#111" stroke-width="0.6"/><circle cx="371.90" cy="423.40" r="1.62" fill="none" stroke="#111" stroke-width="0.7"/><circle cx="384.78" cy="423.40" r="1.62" fill="none" stroke="#111" stroke-width="0.7"/><circle cx="397.66" cy="423.40" r="1.62" fill="none" stroke="#111" stroke-width="0.7"/><circle cx="410.54" cy="423.40" r="1.62" fill="none" stroke="#111" stroke-width="0.7"/><circle cx="423.42" cy="423.40" r="1.62" fill="none" stroke="#111" stroke-width="0.7"/><circle cx="436.30" cy="422.93" r="1.62" fill="none" stroke="#111" stroke-width="0.7"/><circle cx="449.18" cy="422.69" r="1.62" fill="none" stroke="#111" stroke-width="0.7"/><circle cx="462.06" cy="421.98" r="1.62" fill="none" stroke="#111" stroke-width="0.7"/><circle cx="474.94" cy="417.73" r="1.62" fill="none" stroke="#111" stroke-width="0.7"/><circle cx="487.82" cy="406.39" r="1.62" fill="none" stroke="#111" stroke-width="0.7"/><circle cx="500.70" cy="382.76" r="1.62" fill="none" stroke="#111" stroke-width="0.7"/><circle cx="513.58" cy="345.91" r="1.62" fill="none" stroke="#111" stroke-width="0.7"/><circle cx="526.46" cy="310.94" r="1.62" fill="none" stroke="#111" stroke-width="0.7"/><circle cx="539.34" cy="287.32" r="1.62" fill="none" stroke="#111" stroke-width="0.7"/><circle cx="552.22" cy="287.32" r="1.62" fill="none" stroke="#111" stroke-width="0.7"/><circle cx="565.10" cy="295.82" r="1.62" fill="none" stroke="#111" stroke-width="0.7"/><circle cx="577.98" cy="309.06" r="1.62" fill="none" stroke="#111" stroke-width="0.7"/><circle cx="590.86" cy="317.56" r="1.62" fill="none" stroke="#111" stroke-width="0.7"/><circle cx="603.74" cy="323.70" r="1.62" fill="none" stroke="#111" stroke-width="0.7"/><circle cx="616.62" cy="330.79" r="1.62" fill="none" stroke="#111" stroke-width="0.7"/><circle cx="629.50" cy="337.88" r="1.62" fill="none" stroke="#111" stroke-width="0.7"/><circle cx="642.38" cy="343.07" r="1.62" fill="none" stroke="#111" stroke-width="0.7"/><circle cx="655.26" cy="345.91" r="1.62" fill="none" stroke="#111" stroke-width="0.7"/><circle cx="668.14" cy="348.75" r="1.62" fill="none" stroke="#111" stroke-width="0.7"/><path d="M371.90 421.78L373.52 424.70L370.28 424.70Z" fill="none" stroke="#111" stroke-width="0.6"/><path d="M384.78 421.78L386.40 424.70L383.16 424.70Z" fill="none" stroke="#111" stroke-width="0.6"/><path d="M397.66 421.78L399.28 424.70L396.04 424.70Z" fill="none" stroke="#111" stroke-width="0.6"/><path d="M410.54 421.78L412.16 424.70L408.92 424.70Z" fill="none" stroke="#111" stroke-width="0.6"/><path d="M423.42 421.78L425.04 424.70L421.80 424.70Z" fill="none" stroke="#111" stroke-width="0.6"/><path d="M436.30 421.54L437.92 424.46L434.68 424.46Z" fill="none" stroke="#111" stroke-width="0.6"/><path d="M449.18 421.31L450.80 424.22L447.56 424.22Z" fill="none" stroke="#111" stroke-width="0.6"/><path d="M462.06 420.83L463.68 423.75L460.44 423.75Z" fill="none" stroke="#111" stroke-width="0.6"/><path d="M474.94 417.53L476.56 420.44L473.32 420.44Z" fill="none" stroke="#111" stroke-width="0.6"/><path d="M487.82 406.19L489.44 409.10L486.20 409.10Z" fill="none" stroke="#111" stroke-width="0.6"/><path d="M500.70 382.56L502.32 385.48L499.08 385.48Z" fill="none" stroke="#111" stroke-width="0.6"/><path d="M513.58 347.12L515.20 350.04L511.96 350.04Z" fill="none" stroke="#111" stroke-width="0.6"/><path d="M526.46 310.74L528.08 313.66L524.84 313.66Z" fill="none" stroke="#111" stroke-width="0.6"/><path d="M539.34 291.37L540.96 294.29L537.72 294.29Z" fill="none" stroke="#111" stroke-width="0.6"/><path d="M552.22 289.48L553.84 292.40L550.60 292.40Z" fill="none" stroke="#111" stroke-width="0.6"/><path d="M565.10 295.62L566.72 298.54L563.48 298.54Z" fill="none" stroke="#111" stroke-width="0.6"/><path d="M577.98 310.27L579.60 313.19L576.36 313.19Z" fill="none" stroke="#111" stroke-width="0.6"/><path d="M590.86 318.77L592.48 321.69L589.24 321.69Z" fill="none" stroke="#111" stroke-width="0.6"/><path d="M603.74 323.97L605.36 326.89L602.12 326.89Z" fill="none" stroke="#111" stroke-width="0.6"/><path d="M616.62 331.06L618.24 333.98L615.00 333.98Z" fill="none" stroke="#111" stroke-width="0.6"/><path d="M629.50 338.15L631.12 341.06L627.88 341.06Z" fill="none" stroke="#111" stroke-width="0.6"/><path d="M642.38 344.29L644.00 347.21L640.76 347.21Z" fill="none" stroke="#111" stroke-width="0.6"/><path d="M655.26 346.18L656.88 349.10L653.64 349.10Z" fill="none" stroke="#111" stroke-width="0.6"/><path d="M668.14 349.01L669.76 351.93L666.52 351.93Z" fill="none" stroke="#111" stroke-width="0.6"/></g><text x="342.30" y="239.20" font-size="13" font-weight="bold" fill="#000" stroke="#000" stroke-width="0.55">D</text><path d="M375.80 237.30H383.50" stroke="#f00" stroke-width="0.85"/><circle cx="379.60" cy="237.30" r="1.25" fill="#f00"/><text transform="translate(387.10 239.30) scale(0.82 1)" font-size="7.4" fill="#111" stroke="#111" stroke-width="0.15">Newman</text><path d="M375.80 245.00H383.50" stroke="#222" stroke-width="0.85"/><circle cx="379.60" cy="245.00" r="1.25" fill="#000"/><text transform="translate(387.10 247.00) scale(0.82 1)" font-size="7.4" fill="#111" stroke="#111" stroke-width="0.15">Newman + 0.5 µg/mL</text><path d="M375.80 252.70H383.50" stroke="#222" stroke-width="0.85"/><circle cx="379.60" cy="252.70" r="1.65" fill="#000"/><text transform="translate(387.10 254.70) scale(0.82 1)" font-size="7.4" fill="#111" stroke="#111" stroke-width="0.15">Newman + 1 µg/mL</text><path d="M375.80 260.40H383.50" stroke="#222" stroke-width="0.85"/><path d="M379.60 258.90L381.10 261.60L378.10 261.60Z" fill="#000"/><text transform="translate(387.10 262.40) scale(0.82 1)" font-size="7.4" fill="#111" stroke="#111" stroke-width="0.15">Newman + 2 µg/mL</text><path d="M375.80 268.10H383.50" stroke="#222" stroke-width="0.85"/><path d="M379.60 269.60L381.10 266.90L378.10 266.90Z" fill="#000"/><text transform="translate(387.10 270.10) scale(0.82 1)" font-size="7.4" fill="#111" stroke="#111" stroke-width="0.15">Newman + 4 µg/mL</text><path d="M375.80 275.80H383.50" stroke="#222" stroke-width="0.85"/><circle cx="379.60" cy="275.80" r="1.25" fill="none" stroke="#111" stroke-width="0.6"/><text transform="translate(387.10 277.80) scale(0.82 1)" font-size="7.4" fill="#111" stroke="#111" stroke-width="0.15">Newman + 8 µg/mL</text><path d="M375.80 283.50H383.50" stroke="#222" stroke-width="0.85"/><circle cx="379.60" cy="283.50" r="1.50" fill="none" stroke="#111" stroke-width="0.7"/><text transform="translate(387.10 285.50) scale(0.82 1)" font-size="7.4" fill="#111" stroke="#111" stroke-width="0.15">Newman + 16 µg/mL</text><path d="M375.80 291.20H383.50" stroke="#222" stroke-width="0.85"/><path d="M379.60 289.70L381.10 292.40L378.10 292.40Z" fill="none" stroke="#111" stroke-width="0.6"/><text transform="translate(387.10 293.20) scale(0.82 1)" font-size="7.4" fill="#111" stroke="#111" stroke-width="0.15">Newman + 32 µg/mL</text><text x="520.30" y="442.10" text-anchor="middle" font-size="6.8" fill="#222">Time (h)</text><path d="M655.3 423.70V425.00" stroke="#333" stroke-width="0.7"/><path d="M673.8 423.40H675" stroke="#333" stroke-width="0.9"/></svg>
</body></html>
